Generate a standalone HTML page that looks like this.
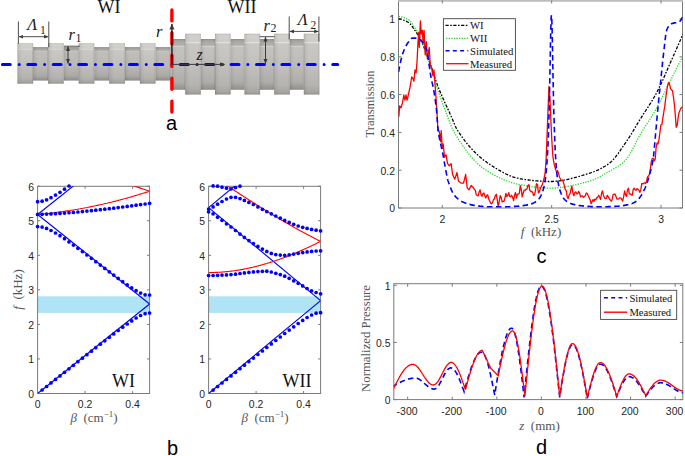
<!DOCTYPE html>
<html><head><meta charset="utf-8"><style>
html,body{margin:0;padding:0;background:#fff;}
svg{display:block;}
</style></head><body>
<svg width="685" height="456" viewBox="0 0 685 456">
<defs>
<linearGradient id="gRing" x1="0" y1="0" x2="0" y2="1">
 <stop offset="0" stop-color="#bbb9b6"/>
 <stop offset="0.03" stop-color="#d2d0cd"/>
 <stop offset="0.13" stop-color="#cfcdca"/>
 <stop offset="0.147" stop-color="#e6e4e1"/>
 <stop offset="0.165" stop-color="#cac8c5"/>
 <stop offset="0.5" stop-color="#c3c1be"/>
 <stop offset="0.85" stop-color="#b5b3b0"/>
 <stop offset="0.95" stop-color="#a8a6a3"/>
 <stop offset="1" stop-color="#969491"/>
</linearGradient>
<linearGradient id="gNar1" x1="0" y1="0" x2="0" y2="1">
 <stop offset="0" stop-color="#8f8d8a"/>
 <stop offset="0.05" stop-color="#a6a4a1"/>
 <stop offset="0.1" stop-color="#b2b0ad"/>
 <stop offset="0.119" stop-color="#d3d1ce"/>
 <stop offset="0.14" stop-color="#c0beba"/>
 <stop offset="0.55" stop-color="#bbb9b6"/>
 <stop offset="0.85" stop-color="#acaaa7"/>
 <stop offset="1" stop-color="#8f8d8a"/>
</linearGradient>
<linearGradient id="gNar2" x1="0" y1="0" x2="0" y2="1">
 <stop offset="0" stop-color="#8f8d8a"/>
 <stop offset="0.04" stop-color="#a9a7a4"/>
 <stop offset="0.125" stop-color="#b4b2af"/>
 <stop offset="0.142" stop-color="#d8d6d3"/>
 <stop offset="0.165" stop-color="#c4c2bf"/>
 <stop offset="0.5" stop-color="#bebcb9"/>
 <stop offset="0.85" stop-color="#afadaa"/>
 <stop offset="1" stop-color="#908e8b"/>
</linearGradient>
<linearGradient id="gEdge" x1="0" y1="0" x2="1" y2="0">
 <stop offset="0" stop-color="#000" stop-opacity="0.22"/>
 <stop offset="0.07" stop-color="#000" stop-opacity="0.06"/>
 <stop offset="0.3" stop-color="#000" stop-opacity="0.0"/>
 <stop offset="0.9" stop-color="#000" stop-opacity="0.0"/>
 <stop offset="1" stop-color="#000" stop-opacity="0.14"/>
</linearGradient>
<marker id="arr" viewBox="0 0 6 6" refX="5.5" refY="3" markerWidth="5" markerHeight="5" orient="auto-start-reverse">
 <path d="M0,0.5 L6,3 L0,5.5 z" fill="#3a3a3a"/>
</marker>
</defs>
<rect width="685" height="456" fill="#fff"/>
<rect x="33.1" y="47.1" width="15.0" height="33.5" fill="url(#gNar1)"/>
<rect x="33.1" y="47.1" width="15.0" height="33.5" fill="url(#gEdge)"/>
<rect x="63.7" y="47.1" width="15.0" height="33.5" fill="url(#gNar1)"/>
<rect x="63.7" y="47.1" width="15.0" height="33.5" fill="url(#gEdge)"/>
<rect x="94.3" y="47.1" width="15.0" height="33.5" fill="url(#gNar1)"/>
<rect x="94.3" y="47.1" width="15.0" height="33.5" fill="url(#gEdge)"/>
<rect x="124.9" y="47.1" width="15.0" height="33.5" fill="url(#gNar1)"/>
<rect x="124.9" y="47.1" width="15.0" height="33.5" fill="url(#gEdge)"/>
<rect x="155.5" y="47.1" width="15.0" height="33.5" fill="url(#gNar1)"/>
<rect x="155.5" y="47.1" width="15.0" height="33.5" fill="url(#gEdge)"/>
<rect x="17.5" y="43.2" width="15.6" height="40.5" fill="url(#gRing)"/>
<rect x="17.5" y="43.2" width="15.6" height="40.5" fill="url(#gEdge)"/>
<rect x="48.1" y="43.2" width="15.6" height="40.5" fill="url(#gRing)"/>
<rect x="48.1" y="43.2" width="15.6" height="40.5" fill="url(#gEdge)"/>
<rect x="78.7" y="43.2" width="15.6" height="40.5" fill="url(#gRing)"/>
<rect x="78.7" y="43.2" width="15.6" height="40.5" fill="url(#gEdge)"/>
<rect x="109.3" y="43.2" width="15.6" height="40.5" fill="url(#gRing)"/>
<rect x="109.3" y="43.2" width="15.6" height="40.5" fill="url(#gEdge)"/>
<rect x="139.9" y="43.2" width="15.6" height="40.5" fill="url(#gRing)"/>
<rect x="139.9" y="43.2" width="15.6" height="40.5" fill="url(#gEdge)"/>
<rect x="170.5" y="43.2" width="1.5" height="40.5" fill="url(#gRing)"/>
<rect x="170.5" y="43.2" width="1.5" height="40.5" fill="url(#gEdge)"/>
<rect x="172.0" y="39.0" width="13.2" height="50.8" fill="url(#gNar2)"/>
<rect x="172.0" y="39.0" width="13.2" height="50.8" fill="url(#gEdge)"/>
<rect x="200.8" y="39.0" width="14.2" height="50.8" fill="url(#gNar2)"/>
<rect x="200.8" y="39.0" width="14.2" height="50.8" fill="url(#gEdge)"/>
<rect x="230.6" y="39.0" width="13.9" height="50.8" fill="url(#gNar2)"/>
<rect x="230.6" y="39.0" width="13.9" height="50.8" fill="url(#gEdge)"/>
<rect x="260.1" y="39.0" width="14.1" height="50.8" fill="url(#gNar2)"/>
<rect x="260.1" y="39.0" width="14.1" height="50.8" fill="url(#gEdge)"/>
<rect x="289.8" y="39.0" width="14.0" height="50.8" fill="url(#gNar2)"/>
<rect x="289.8" y="39.0" width="14.0" height="50.8" fill="url(#gEdge)"/>
<rect x="185.2" y="33.7" width="15.6" height="60.9" fill="url(#gRing)"/>
<rect x="185.2" y="33.7" width="15.6" height="60.9" fill="url(#gEdge)"/>
<rect x="215.0" y="33.7" width="15.6" height="60.9" fill="url(#gRing)"/>
<rect x="215.0" y="33.7" width="15.6" height="60.9" fill="url(#gEdge)"/>
<rect x="244.5" y="33.7" width="15.6" height="60.9" fill="url(#gRing)"/>
<rect x="244.5" y="33.7" width="15.6" height="60.9" fill="url(#gEdge)"/>
<rect x="274.2" y="33.7" width="15.6" height="60.9" fill="url(#gRing)"/>
<rect x="274.2" y="33.7" width="15.6" height="60.9" fill="url(#gEdge)"/>
<rect x="303.8" y="33.7" width="15.6" height="60.9" fill="url(#gRing)"/>
<rect x="303.8" y="33.7" width="15.6" height="60.9" fill="url(#gEdge)"/>
<line x1="2.4" y1="64.4" x2="337.7" y2="64.4" stroke="#0000ff" stroke-width="3" stroke-linecap="round" stroke-dasharray="7.9 8.9 0.01 8.6"/>
<line x1="171.9" y1="9.9" x2="171.9" y2="120" stroke="#ff0000" stroke-width="3.4" stroke-linecap="round" stroke-dasharray="11 11.8"/>
<line x1="171.9" y1="64.4" x2="171.9" y2="24" stroke="#000" stroke-width="1.2" marker-end="url(#arr)"/>
<line x1="171.9" y1="64.4" x2="224.6" y2="64.4" stroke="#3a3a3a" stroke-width="1" marker-end="url(#arr)"/>
<line x1="68" y1="63.5" x2="68" y2="46.5" stroke="#3a3a3a" stroke-width="1" marker-start="url(#arr)" marker-end="url(#arr)"/>
<line x1="64" y1="46.2" x2="79.8" y2="46.2" stroke="#3a3a3a" stroke-width="0.9" />
<line x1="265.5" y1="63.5" x2="265.5" y2="37" stroke="#3a3a3a" stroke-width="1" marker-start="url(#arr)" marker-end="url(#arr)"/>
<line x1="259.7" y1="36.7" x2="274.6" y2="36.7" stroke="#3a3a3a" stroke-width="0.9" />
<line x1="18.4" y1="21.5" x2="18.4" y2="43.7" stroke="#3a3a3a" stroke-width="0.9" />
<line x1="48.8" y1="21.5" x2="48.8" y2="47.2" stroke="#3a3a3a" stroke-width="0.9" />
<line x1="19" y1="36.7" x2="48.2" y2="36.7" stroke="#3a3a3a" stroke-width="0.9" marker-start="url(#arr)" marker-end="url(#arr)"/>
<line x1="289.2" y1="16.5" x2="289.2" y2="39.5" stroke="#3a3a3a" stroke-width="0.9" />
<line x1="318.9" y1="16.5" x2="318.9" y2="41.7" stroke="#3a3a3a" stroke-width="0.9" />
<line x1="289.8" y1="31.4" x2="318.3" y2="31.4" stroke="#3a3a3a" stroke-width="0.9" marker-start="url(#arr)" marker-end="url(#arr)"/>
<text x="109" y="13.3" font-family="Liberation Serif" font-size="18" fill="#111" text-anchor="middle" >WI</text>
<text x="242" y="13.3" font-family="Liberation Serif" font-size="18" fill="#111" text-anchor="middle" >WII</text>
<text x="36.5" y="30" font-family="Liberation Serif" font-size="16.5" fill="#222" text-anchor="middle" ><tspan font-style="italic">Λ</tspan><tspan font-size="11.5" dy="4.1" dx="3">1</tspan></text>
<text x="307" y="24.6" font-family="Liberation Serif" font-size="16.5" fill="#222" text-anchor="middle" ><tspan font-style="italic">Λ</tspan><tspan font-size="11.5" dy="4.1" dx="3">2</tspan></text>
<text x="75" y="40" font-family="Liberation Serif" font-size="16.5" fill="#222" text-anchor="middle" ><tspan font-style="italic">r</tspan><tspan font-size="12" dy="1.5" dx="0.8">1</tspan></text>
<text x="270" y="30.5" font-family="Liberation Serif" font-size="16.5" fill="#222" text-anchor="middle" ><tspan font-style="italic">r</tspan><tspan font-size="12" dy="1.5" dx="0.8">2</tspan></text>
<text x="159.3" y="36.5" font-family="Liberation Serif" font-size="16.5" fill="#222" text-anchor="middle" font-style="italic">r</text>
<text x="199.5" y="60" font-family="Liberation Serif" font-size="16" fill="#222" text-anchor="middle" font-style="italic">z</text>
<text x="171.5" y="130" font-family="Liberation Sans" font-size="20" fill="#000" text-anchor="middle" >a</text>
<path d="M398.5,0 V208 H682.5 V0" fill="none" stroke="#7a7a7a" stroke-width="1"/>
<line x1="398.0" y1="0.85" x2="683.0" y2="0.85" stroke="#bdbdbd" stroke-width="1.7"/>
<line x1="442.3" y1="208" x2="442.3" y2="205" stroke="#7a7a7a" stroke-width="1" />
<line x1="442.3" y1="0.5" x2="442.3" y2="3.5" stroke="#7a7a7a" stroke-width="1" />
<text transform="translate(442.30,223.30) scale(0.9,1)" x="0" y="0" font-family="Liberation Sans" font-size="11.6" fill="#262626" text-anchor="middle" >2</text>
<line x1="551.675" y1="208" x2="551.675" y2="205" stroke="#7a7a7a" stroke-width="1" />
<line x1="551.675" y1="0.5" x2="551.675" y2="3.5" stroke="#7a7a7a" stroke-width="1" />
<text transform="translate(551.67,223.30) scale(0.9,1)" x="0" y="0" font-family="Liberation Sans" font-size="11.6" fill="#262626" text-anchor="middle" >2.5</text>
<line x1="661.05" y1="208" x2="661.05" y2="205" stroke="#7a7a7a" stroke-width="1" />
<line x1="661.05" y1="0.5" x2="661.05" y2="3.5" stroke="#7a7a7a" stroke-width="1" />
<text transform="translate(661.05,223.30) scale(0.9,1)" x="0" y="0" font-family="Liberation Sans" font-size="11.6" fill="#262626" text-anchor="middle" >3</text>
<line x1="398.5" y1="208" x2="401.5" y2="208" stroke="#7a7a7a" stroke-width="1" />
<line x1="682.5" y1="208" x2="679.5" y2="208" stroke="#7a7a7a" stroke-width="1" />
<text transform="translate(395.00,212.30) scale(0.9,1)" x="0" y="0" font-family="Liberation Sans" font-size="11.6" fill="#262626" text-anchor="end" >0</text>
<line x1="398.5" y1="170.2" x2="401.5" y2="170.2" stroke="#7a7a7a" stroke-width="1" />
<line x1="682.5" y1="170.2" x2="679.5" y2="170.2" stroke="#7a7a7a" stroke-width="1" />
<text transform="translate(395.00,174.50) scale(0.9,1)" x="0" y="0" font-family="Liberation Sans" font-size="11.6" fill="#262626" text-anchor="end" >0.2</text>
<line x1="398.5" y1="132.39999999999998" x2="401.5" y2="132.39999999999998" stroke="#7a7a7a" stroke-width="1" />
<line x1="682.5" y1="132.39999999999998" x2="679.5" y2="132.39999999999998" stroke="#7a7a7a" stroke-width="1" />
<text transform="translate(395.00,136.70) scale(0.9,1)" x="0" y="0" font-family="Liberation Sans" font-size="11.6" fill="#262626" text-anchor="end" >0.4</text>
<line x1="398.5" y1="94.60000000000001" x2="401.5" y2="94.60000000000001" stroke="#7a7a7a" stroke-width="1" />
<line x1="682.5" y1="94.60000000000001" x2="679.5" y2="94.60000000000001" stroke="#7a7a7a" stroke-width="1" />
<text transform="translate(395.00,98.90) scale(0.9,1)" x="0" y="0" font-family="Liberation Sans" font-size="11.6" fill="#262626" text-anchor="end" >0.6</text>
<line x1="398.5" y1="56.79999999999998" x2="401.5" y2="56.79999999999998" stroke="#7a7a7a" stroke-width="1" />
<line x1="682.5" y1="56.79999999999998" x2="679.5" y2="56.79999999999998" stroke="#7a7a7a" stroke-width="1" />
<text transform="translate(395.00,61.10) scale(0.9,1)" x="0" y="0" font-family="Liberation Sans" font-size="11.6" fill="#262626" text-anchor="end" >0.8</text>
<line x1="398.5" y1="19" x2="401.5" y2="19" stroke="#7a7a7a" stroke-width="1" />
<line x1="682.5" y1="19" x2="679.5" y2="19" stroke="#7a7a7a" stroke-width="1" />
<text transform="translate(395.00,23.30) scale(0.9,1)" x="0" y="0" font-family="Liberation Sans" font-size="11.6" fill="#262626" text-anchor="end" >1</text>
<text x="541" y="236" font-family="Liberation Serif" font-size="13" fill="#555555" text-anchor="middle" xml:space="preserve"><tspan font-style="italic">f</tspan>  (kHz)</text>
<text x="0" y="0" font-family="Liberation Serif" font-size="12.5" fill="#555555" text-anchor="middle" transform="translate(373.8,104) rotate(-90)">Transmission</text>
<text x="541.5" y="263" font-family="Liberation Sans" font-size="20" fill="#000" text-anchor="middle" >c</text>
<svg x="398.5" y="0.5" width="284.0" height="207.5" viewBox="398.5 0.5 284.0 207.5" overflow="hidden">
<path d="M398.6,19.0L399.5,19.0L400.5,19.2L401.4,19.4L402.4,19.6L403.3,20.0L404.3,20.3L405.2,20.8L406.2,21.2L407.1,21.7L408.1,22.3L409.0,22.9L410.0,23.7L410.9,24.8L411.9,26.0L412.8,27.4L413.8,28.8L414.7,30.1L415.7,31.5L416.6,32.8L417.6,34.3L418.5,35.9L419.5,37.6L420.4,39.5L421.4,41.5L422.3,43.6L423.3,45.8L424.2,48.1L425.2,50.5L426.1,52.9L427.1,55.4L428.0,57.9L429.0,60.4L429.9,62.9L430.9,65.6L431.8,68.4L432.8,71.3L433.7,74.2L434.7,77.1L435.6,80.0L436.6,82.7L437.5,85.3L438.5,87.7L439.4,90.1L440.4,92.4L441.3,94.6L442.3,96.8L443.3,99.0L444.2,101.1L445.2,103.2L446.1,105.2L447.1,107.3L448.0,109.4L449.0,111.4L449.9,113.5L450.9,115.6L451.8,117.8L452.8,120.0L453.7,122.3L454.7,124.6L455.6,126.7L456.6,128.7L457.5,130.4L458.5,131.8L459.4,133.2L460.4,134.6L461.3,136.0L462.3,137.3L463.2,138.6L464.2,139.9L465.1,141.1L466.1,142.3L467.0,143.5L468.0,144.7L468.9,145.8L469.9,146.9L470.8,148.0L471.8,149.0L472.7,150.0L473.7,151.0L474.6,152.0L475.6,152.9L476.5,153.9L477.5,154.8L478.4,155.6L479.4,156.5L480.3,157.3L481.3,158.1L482.2,158.9L483.2,159.7L484.1,160.4L485.1,161.1L486.1,161.8L487.0,162.5L488.0,163.2L488.9,163.8L489.9,164.4L490.8,165.1L491.8,165.7L492.7,166.3L493.7,166.9L494.6,167.5L495.6,168.1L496.5,168.7L497.5,169.2L498.4,169.8L499.4,170.4L500.3,170.9L501.3,171.5L502.2,172.0L503.2,172.5L504.1,173.0L505.1,173.5L506.0,174.0L507.0,174.4L507.9,174.9L508.9,175.3L509.8,175.7L510.8,176.1L511.7,176.5L512.7,176.8L513.6,177.1L514.6,177.4L515.5,177.7L516.5,178.0L517.4,178.2L518.4,178.4L519.3,178.6L520.3,178.8L521.2,178.9L522.2,179.1L523.1,179.2L524.1,179.3L525.0,179.5L526.0,179.6L526.9,179.7L527.9,179.9L528.8,180.0L529.8,180.1L530.8,180.2L531.7,180.4L532.7,180.5L533.6,180.6L534.6,180.7L535.5,180.8L536.5,180.9L537.4,180.9L538.4,181.0L539.3,181.1L540.3,181.2L541.2,181.2L542.2,181.3L543.1,181.4L544.1,181.4L545.0,181.4L546.0,181.5L546.9,181.5L547.9,181.5L548.8,181.5L549.8,181.5L550.7,181.5L551.7,181.5L552.6,181.5L553.6,181.4L554.5,181.4L555.5,181.3L556.4,181.2L557.4,181.1L558.3,181.0L559.3,180.9L560.2,180.8L561.2,180.6L562.1,180.5L563.1,180.3L564.0,180.1L565.0,179.9L565.9,179.8L566.9,179.6L567.8,179.3L568.8,179.1L569.7,178.9L570.7,178.7L571.6,178.4L572.6,178.2L573.6,178.0L574.5,177.7L575.5,177.4L576.4,177.2L577.4,176.9L578.3,176.6L579.3,176.4L580.2,176.1L581.2,175.8L582.1,175.5L583.1,175.2L584.0,174.9L585.0,174.6L585.9,174.3L586.9,174.0L587.8,173.8L588.8,173.5L589.7,173.2L590.7,172.9L591.6,172.5L592.6,172.2L593.5,171.9L594.5,171.5L595.4,171.1L596.4,170.7L597.3,170.3L598.3,169.9L599.2,169.4L600.2,168.9L601.1,168.4L602.1,167.9L603.0,167.4L604.0,166.8L604.9,166.3L605.9,165.7L606.8,165.0L607.8,164.4L608.7,163.7L609.7,163.0L610.6,162.2L611.6,161.4L612.5,160.4L613.5,159.4L614.4,158.2L615.4,157.1L616.3,155.9L617.3,154.6L618.3,153.3L619.2,151.9L620.2,150.6L621.1,149.2L622.1,147.8L623.0,146.4L624.0,145.0L624.9,143.7L625.9,142.3L626.8,140.9L627.8,139.5L628.7,138.0L629.7,136.6L630.6,135.0L631.6,133.5L632.5,131.9L633.5,130.4L634.4,128.8L635.4,127.2L636.3,125.6L637.3,124.0L638.2,122.5L639.2,120.9L640.1,119.3L641.1,117.8L642.0,116.3L643.0,114.8L643.9,113.4L644.9,111.9L645.8,110.5L646.8,109.0L647.7,107.6L648.7,106.1L649.6,104.6L650.6,103.1L651.5,101.6L652.5,100.0L653.4,98.4L654.4,96.8L655.3,95.1L656.3,93.3L657.2,91.5L658.2,89.6L659.1,87.7L660.1,85.7L661.0,83.7L662.0,81.6L663.0,79.5L663.9,77.4L664.9,75.3L665.8,73.1L666.8,70.9L667.7,68.7L668.7,66.6L669.6,64.4L670.6,62.2L671.5,60.1L672.5,58.0L673.4,55.8L674.4,53.7L675.3,51.6L676.3,49.4L677.2,47.2L678.2,45.1L679.1,42.9L680.1,40.7L681.0,38.5L682.0,36.3L682.9,34.1" fill="none" stroke="#000" stroke-width="1.3" stroke-dasharray="3.2 1.5 1.6 1.5"/>
<path d="M398.6,16.5L399.5,16.6L400.5,16.7L401.4,16.9L402.4,17.1L403.3,17.4L404.3,17.7L405.2,18.1L406.2,18.5L407.1,19.0L408.1,19.5L409.0,20.0L410.0,20.8L410.9,21.9L411.9,23.3L412.8,24.7L413.8,26.2L414.7,27.7L415.7,29.1L416.6,30.7L417.6,32.3L418.5,34.1L419.5,35.9L420.4,37.9L421.4,40.1L422.3,42.4L423.3,44.9L424.2,47.5L425.2,50.3L426.1,53.1L427.1,56.0L428.0,58.9L429.0,61.8L429.9,64.7L430.9,67.6L431.8,70.7L432.8,73.8L433.7,76.9L434.7,80.1L435.6,83.2L436.6,86.2L437.5,89.1L438.5,91.9L439.4,94.6L440.4,97.3L441.3,100.0L442.3,102.6L443.3,105.2L444.2,107.8L445.2,110.3L446.1,112.8L447.1,115.2L448.0,117.7L449.0,120.3L449.9,122.8L450.9,125.3L451.8,127.6L452.8,129.6L453.7,131.3L454.7,133.0L455.6,134.6L456.6,136.2L457.5,137.8L458.5,139.3L459.4,140.8L460.4,142.2L461.3,143.7L462.3,145.1L463.2,146.5L464.2,147.8L465.1,149.1L466.1,150.4L467.0,151.7L468.0,152.9L468.9,154.1L469.9,155.3L470.8,156.4L471.8,157.5L472.7,158.6L473.7,159.6L474.6,160.6L475.6,161.6L476.5,162.5L477.5,163.4L478.4,164.3L479.4,165.2L480.3,166.0L481.3,166.8L482.2,167.5L483.2,168.2L484.1,168.9L485.1,169.6L486.1,170.2L487.0,170.8L488.0,171.4L488.9,172.0L489.9,172.5L490.8,173.1L491.8,173.7L492.7,174.2L493.7,174.7L494.6,175.3L495.6,175.8L496.5,176.3L497.5,176.8L498.4,177.2L499.4,177.7L500.3,178.1L501.3,178.6L502.2,179.0L503.2,179.4L504.1,179.8L505.1,180.2L506.0,180.6L507.0,181.0L507.9,181.3L508.9,181.7L509.8,182.0L510.8,182.3L511.7,182.6L512.7,182.9L513.6,183.2L514.6,183.4L515.5,183.7L516.5,183.9L517.4,184.1L518.4,184.3L519.3,184.5L520.3,184.6L521.2,184.8L522.2,185.0L523.1,185.2L524.1,185.3L525.0,185.5L526.0,185.7L526.9,185.8L527.9,186.0L528.8,186.2L529.8,186.3L530.8,186.5L531.7,186.6L532.7,186.8L533.6,186.9L534.6,187.0L535.5,187.1L536.5,187.3L537.4,187.4L538.4,187.5L539.3,187.6L540.3,187.7L541.2,187.8L542.2,187.8L543.1,187.9L544.1,188.0L545.0,188.0L546.0,188.1L546.9,188.1L547.9,188.1L548.8,188.1L549.8,188.2L550.7,188.2L551.7,188.1L552.6,188.1L553.6,188.1L554.5,188.0L555.5,188.0L556.4,187.9L557.4,187.8L558.3,187.7L559.3,187.6L560.2,187.5L561.2,187.4L562.1,187.3L563.1,187.2L564.0,187.0L565.0,186.9L565.9,186.7L566.9,186.5L567.8,186.4L568.8,186.2L569.7,186.0L570.7,185.8L571.6,185.6L572.6,185.4L573.6,185.2L574.5,185.0L575.5,184.8L576.4,184.6L577.4,184.3L578.3,184.1L579.3,183.9L580.2,183.6L581.2,183.4L582.1,183.2L583.1,182.9L584.0,182.7L585.0,182.4L585.9,182.1L586.9,181.9L587.8,181.6L588.8,181.4L589.7,181.1L590.7,180.8L591.6,180.5L592.6,180.2L593.5,179.8L594.5,179.4L595.4,179.0L596.4,178.5L597.3,178.1L598.3,177.6L599.2,177.1L600.2,176.6L601.1,176.0L602.1,175.5L603.0,175.0L604.0,174.4L604.9,173.8L605.9,173.3L606.8,172.7L607.8,172.2L608.7,171.6L609.7,171.1L610.6,170.5L611.6,170.0L612.5,169.4L613.5,168.9L614.4,168.3L615.4,167.8L616.3,167.2L617.3,166.6L618.3,166.0L619.2,165.3L620.2,164.6L621.1,163.9L622.1,163.2L623.0,162.4L624.0,161.5L624.9,160.7L625.9,159.7L626.8,158.6L627.8,157.3L628.7,155.9L629.7,154.4L630.6,152.8L631.6,151.0L632.5,149.3L633.5,147.4L634.4,145.6L635.4,143.7L636.3,141.8L637.3,140.0L638.2,138.2L639.2,136.4L640.1,134.7L641.1,133.1L642.0,131.6L643.0,130.0L643.9,128.5L644.9,127.0L645.8,125.6L646.8,124.1L647.7,122.6L648.7,121.1L649.6,119.7L650.6,118.2L651.5,116.7L652.5,115.1L653.4,113.6L654.4,112.0L655.3,110.3L656.3,108.7L657.2,106.9L658.2,105.2L659.1,103.4L660.1,101.5L661.0,99.7L662.0,97.8L663.0,95.8L663.9,93.9L664.9,92.0L665.8,90.0L666.8,88.1L667.7,86.1L668.7,84.2L669.6,82.2L670.6,80.3L671.5,78.4L672.5,76.5L673.4,74.7L674.4,72.8L675.3,70.9L676.3,69.0L677.2,67.1L678.2,65.2L679.1,63.4L680.1,61.5L681.0,59.6L682.0,57.7L682.9,55.9" fill="none" stroke="#22dd22" stroke-width="1.3" stroke-dasharray="1.3 1.3"/>
<path d="M398.1,107.1L398.9,116.3L399.6,105.8L401.0,107.8L402.5,102.9L403.8,95.0L404.9,100.1L406.0,95.0L407.1,100.1L408.8,92.9L410.1,87.0L411.7,77.0L413.0,78.5L413.9,81.4L415.0,70.0L416.1,72.9L417.1,60.6L418.0,41.7L418.7,32.2L419.3,47.3L420.4,20.9L421.3,34.1L422.4,30.3L423.1,43.6L424.1,30.3L425.2,54.9L426.3,41.7L427.4,58.7L429.2,47.3L430.3,65.3L431.8,68.1L432.9,75.7L434.0,70.0L435.1,85.1L436.2,100.1L437.3,117.5L437.9,130.7L438.8,130.5L439.5,133.0L440.6,141.7L441.2,130.7L442.3,148.3L443.2,143.9L444.5,157.0L446.0,154.9L447.6,163.6L449.3,165.9L451.1,163.6L452.6,174.5L454.8,179.1L457.0,172.5L458.5,181.2L461.3,183.2L463.5,183.2L465.7,174.5L467.2,187.8L469.0,189.9L471.2,185.5L473.4,187.8L474.3,189.2L475.3,190.2L476.2,194.7L477.2,195.5L478.1,195.9L479.1,192.2L480.1,189.8L481.0,194.4L482.0,196.2L482.9,193.5L483.9,193.0L484.8,195.5L485.8,197.9L486.8,195.5L487.7,194.8L488.7,198.9L489.6,200.7L490.6,203.1L491.5,203.8L492.5,202.6L493.5,199.7L494.4,198.7L495.4,195.5L496.3,194.3L497.3,199.9L498.2,206.7L499.2,201.7L500.2,195.7L501.1,197.1L502.1,201.9L503.0,201.3L504.0,201.3L504.9,198.2L505.9,193.5L506.9,196.7L507.8,195.2L508.8,192.7L509.7,196.5L510.7,196.8L511.6,195.2L512.6,197.4L513.6,200.6L514.5,195.2L515.5,192.6L516.4,198.0L517.4,194.2L518.3,194.1L519.3,193.5L520.3,185.6L521.2,189.1L522.2,196.8L523.1,193.6L524.1,190.1L525.0,190.4L526.0,189.1L526.9,189.0L527.9,185.6L528.9,184.7L529.8,190.4L530.8,191.5L531.7,191.5L532.7,192.5L533.6,195.6L534.6,194.5L535.6,189.6L536.5,183.6L537.5,184.6L538.4,192.9L539.4,191.8L540.3,188.5L541.3,186.3L542.3,184.6L543.2,181.5L544.2,177.6L545.1,173.2L546.1,159.6L547.0,137.4L548.0,110.1L549.0,86.3L549.9,97.7L550.9,120.6L551.8,139.8L552.8,155.3L553.7,161.8L554.7,166.2L555.7,169.6L556.6,172.3L557.6,170.6L558.5,173.3L559.5,177.2L560.4,178.8L561.4,180.5L562.4,180.0L563.3,182.0L564.3,185.4L565.2,189.5L566.2,190.5L567.1,196.2L568.1,198.6L569.1,195.1L570.0,193.9L571.0,189.3L571.9,186.1L572.9,193.1L573.8,195.7L574.8,192.7L575.8,191.9L576.7,193.8L577.7,193.7L578.6,191.4L579.6,192.9L580.5,196.8L581.5,195.9L582.4,195.8L583.4,197.4L584.4,196.4L585.3,195.9L586.3,193.0L587.2,193.4L588.2,195.8L589.1,197.6L590.1,199.7L591.1,203.7L592.0,201.8L593.0,199.6L593.9,201.4L594.9,199.1L595.8,199.8L596.8,197.7L597.8,197.2L598.7,195.3L599.7,197.2L600.6,199.5L601.6,193.1L602.5,190.9L603.5,195.4L604.5,197.8L605.4,198.7L606.4,198.4L607.3,195.3L608.3,196.9L609.2,198.5L610.2,199.9L611.2,201.2L612.1,199.7L613.1,194.7L614.0,194.3L615.0,194.0L615.9,196.3L616.9,199.1L617.9,199.2L618.8,198.7L619.8,197.8L620.7,197.9L621.7,199.2L622.6,201.1L623.6,196.9L624.6,191.0L625.5,194.6L626.5,196.3L627.4,190.3L628.4,188.3L629.3,193.8L630.3,193.9L631.3,194.8L632.2,195.3L633.2,189.6L634.1,188.2L635.1,189.7L636.0,190.3L637.0,188.6L638.0,189.2L638.9,190.1L639.9,192.4L640.8,189.9L641.8,183.4L642.7,183.8L643.7,183.3L644.6,182.7L645.6,183.5L646.6,181.2L647.5,177.0L648.5,176.1L649.4,174.2L650.4,168.6L651.3,161.5L652.3,158.4L653.3,158.4L654.2,161.0L655.2,159.1L656.1,147.7L657.1,142.9L658.0,144.1L659.0,139.4L660.0,132.0L660.9,124.8L661.9,124.7L662.8,118.4L663.8,111.8L664.7,106.7L665.7,98.5L666.7,91.0L667.6,85.3L668.6,82.4L669.5,84.0L670.5,88.4L671.4,89.9L672.4,90.5L673.4,96.7L674.3,103.6L675.3,114.9L676.2,127.3L677.2,125.3L678.1,117.7L679.1,112.4L680.1,110.1L681.0,108.0L682.0,107.4L682.9,106.5" fill="none" stroke="#ff0000" stroke-width="1.3" stroke-linejoin="round"/>
<path d="M398.6,71.9L398.8,70.8L399.0,69.7L399.2,68.7L399.4,67.6L399.6,66.6L399.8,65.6L400.0,64.6L400.2,63.6L400.4,62.7L400.6,61.8L400.8,60.9L401.0,60.0L401.2,59.1L401.4,58.3L401.6,57.5L401.8,56.7L402.0,56.0L402.2,55.3L402.4,54.7L402.6,54.0L402.8,53.4L403.0,52.9L403.2,52.3L403.4,51.7L403.6,51.2L403.8,50.7L404.0,50.2L404.2,49.7L404.4,49.2L404.6,48.7L404.9,48.2L405.1,47.8L405.3,47.3L405.5,46.9L405.7,46.5L405.9,46.1L406.1,45.7L406.3,45.3L406.5,45.0L406.7,44.6L406.9,44.3L407.1,44.0L407.3,43.6L407.5,43.3L407.7,43.1L407.9,42.8L408.1,42.5L408.3,42.2L408.5,41.9L408.7,41.6L408.9,41.3L409.1,41.0L409.3,40.8L409.5,40.5L409.7,40.2L409.9,40.0L410.1,39.7L410.3,39.5L410.5,39.3L410.7,39.1L410.9,38.9L411.2,38.7L411.4,38.5L411.6,38.4L411.8,38.3L412.0,38.2L412.2,38.1L412.4,38.1L412.6,38.1L412.8,38.1L413.0,38.1L413.2,38.1L413.4,38.1L413.6,38.1L413.8,38.1L414.0,38.1L414.2,38.1L414.4,38.1L414.6,38.1L414.8,38.1L415.0,38.1L415.2,38.1L415.4,38.1L415.6,38.1L415.8,38.1L416.0,38.1L416.2,38.1L416.4,38.1L416.6,38.1L416.8,38.1L417.0,38.1L417.3,38.1L417.5,38.1L417.7,38.1L417.9,38.1L418.1,38.2L418.3,38.3L418.5,38.4L418.7,38.5L418.9,38.6L419.1,38.7L419.3,38.8L419.5,39.0L419.7,39.2L419.9,39.3L420.1,39.5L420.3,39.7L420.5,39.9L420.7,40.1L420.9,40.3L421.1,40.5L421.3,40.7L421.5,41.0L421.7,41.2L421.9,41.4L422.1,41.6L422.3,41.8L422.5,42.1L422.7,42.3L422.9,42.6L423.1,42.9L423.3,43.1L423.6,43.4L423.8,43.7L424.0,44.1L424.2,44.4L424.4,44.8L424.6,45.2L424.8,45.6L425.0,46.0L425.2,46.4L425.4,46.8L425.6,47.3L425.8,47.8L426.0,48.3L426.2,48.8L426.4,49.4L426.6,50.0L426.8,50.6L427.0,51.2L427.2,51.9L427.4,52.8L427.6,53.8L427.8,55.0L428.0,56.3L428.2,57.7L428.4,59.1L428.6,60.6L428.8,62.2L429.0,63.7L429.2,65.3L429.4,66.9L429.7,68.5L429.9,70.0L430.1,71.5L430.3,72.9L430.5,74.2L430.7,75.5L430.9,76.6L431.1,77.6L431.3,78.6L431.5,79.6L431.7,80.6L431.9,81.5L432.1,82.4L432.3,83.2L432.5,84.1L432.7,85.0L432.9,85.9L433.1,86.9L433.3,87.8L433.5,88.8L433.7,89.9L433.9,91.0L434.1,92.2L434.3,93.4L434.5,94.7L434.7,96.0L434.9,97.4L435.1,98.9L435.3,100.4L435.5,102.0L435.7,103.7L436.0,105.4L436.2,107.2L436.4,109.1L436.6,111.1L436.8,113.3L437.0,116.0L437.2,118.9L437.4,122.0L437.6,124.8L437.8,127.2L438.0,129.0L438.2,130.6L438.4,132.0L438.6,133.4L438.8,134.7L439.0,135.9L439.2,137.1L439.4,138.1L439.6,139.2L439.8,140.2L440.0,141.1L440.2,142.0L440.4,142.9L440.6,143.8L440.8,144.6L441.0,145.5L441.2,146.4L441.4,147.2L441.6,148.1L441.8,149.1L442.0,150.0L442.3,151.0L442.5,152.0L442.7,153.1L442.9,154.2L443.1,155.2L443.3,156.3L443.5,157.4L443.7,158.6L443.9,159.7L444.1,160.8L444.3,162.0L444.5,163.1L444.7,164.2L444.9,165.3L445.1,166.5L445.3,167.6L445.5,168.7L445.7,169.8L445.9,170.8L446.1,171.9L446.3,172.9L446.5,174.0L446.7,174.9L446.9,175.9L447.1,176.8L447.3,177.7L447.5,178.6L447.7,179.5L447.9,180.3L448.1,181.0L448.4,181.7L448.6,182.4L448.8,183.0L449.0,183.6L449.2,184.2L449.4,184.8L449.6,185.3L449.8,185.9L450.0,186.4L450.2,186.9L450.4,187.4L450.6,187.9L450.8,188.4L451.0,188.9L451.2,189.4L451.4,189.8L451.6,190.3L451.8,190.7L452.0,191.2L452.2,191.6L452.4,192.0L452.6,192.4L452.8,192.8L453.0,193.1L453.2,193.5L453.4,193.8L453.6,194.2L453.8,194.5L454.0,194.8L454.2,195.1L454.4,195.4L454.7,195.6L454.9,195.9L455.1,196.1L455.3,196.4L455.5,196.6L455.7,196.8L455.9,197.0L456.1,197.2L456.3,197.4L456.5,197.6L456.7,197.8L456.9,198.0L457.1,198.2L457.3,198.4L457.5,198.5L457.7,198.7L457.9,198.9L458.1,199.0L458.3,199.2L458.5,199.4L458.7,199.5L458.9,199.7L459.1,199.8L459.3,200.0L459.5,200.1L459.7,200.2L459.9,200.4L460.1,200.5L460.3,200.6L460.5,200.8L460.8,200.9L461.0,201.0L461.2,201.1L461.4,201.2L461.6,201.4L461.8,201.5L462.0,201.6L462.2,201.7L462.4,201.8L462.6,201.9L462.8,202.0L463.0,202.1L463.2,202.2L463.4,202.3L463.6,202.3L463.8,202.4L464.0,202.5L464.2,202.6L464.4,202.7L464.6,202.8L464.8,202.8L465.0,202.9L465.2,203.0L465.4,203.1L465.6,203.1L465.8,203.2L466.0,203.3L466.2,203.4L466.4,203.4L466.6,203.5L466.8,203.6L467.1,203.6L467.3,203.7L467.5,203.8L467.7,203.8L467.9,203.9L468.1,204.0L468.3,204.0L468.5,204.1L468.7,204.1L468.9,204.2L469.1,204.3L469.3,204.3L469.5,204.4L469.7,204.4L469.9,204.5L470.1,204.5L470.3,204.6L470.5,204.6L470.7,204.7L470.9,204.7L471.1,204.8L471.3,204.8L471.5,204.9L471.7,204.9L471.9,205.0L472.1,205.0L472.3,205.1L472.5,205.1L472.7,205.1L472.9,205.2L473.2,205.2L473.4,205.3L473.6,205.3L473.8,205.3L474.0,205.4L474.2,205.4L474.4,205.4L474.6,205.5L474.8,205.5L475.0,205.5L475.2,205.6L475.4,205.6L475.6,205.6L475.8,205.7L476.0,205.7L476.2,205.7L476.4,205.7L476.6,205.8L476.8,205.8L477.0,205.8L477.2,205.9L477.4,205.9L477.6,205.9L477.8,205.9L478.0,206.0L478.2,206.0L478.4,206.0L478.6,206.0L478.8,206.1L479.0,206.1L479.2,206.1L479.5,206.1L479.7,206.2L479.9,206.2L480.1,206.2L480.3,206.2L480.5,206.2L480.7,206.3L480.9,206.3L481.1,206.3L481.3,206.3L481.5,206.3L481.7,206.4L481.9,206.4L482.1,206.4L482.3,206.4L482.5,206.4L482.7,206.5L482.9,206.5L483.1,206.5L483.3,206.5L483.5,206.5L483.7,206.5L483.9,206.5L484.1,206.6L484.3,206.6L484.5,206.6L484.7,206.6L484.9,206.6L485.1,206.6L485.3,206.6L485.5,206.6L485.8,206.6L486.0,206.6L486.2,206.6L486.4,206.6L486.6,206.6L486.8,206.6L487.0,206.7L487.2,206.7L487.4,206.7L487.6,206.7L487.8,206.7L488.0,206.7L488.2,206.7L488.4,206.7L488.6,206.7L488.8,206.7L489.0,206.7L489.2,206.7L489.4,206.7L489.6,206.7L489.8,206.7L490.0,206.7L490.2,206.7L490.4,206.7L490.6,206.7L490.8,206.7L491.0,206.7L491.2,206.7L491.4,206.7L491.6,206.7L491.9,206.7L492.1,206.8L492.3,206.8L492.5,206.8L492.7,206.8L492.9,206.8L493.1,206.8L493.3,206.8L493.5,206.8L493.7,206.8L493.9,206.8L494.1,206.8L494.3,206.8L494.5,206.8L494.7,206.8L494.9,206.8L495.1,206.8L495.3,206.8L495.5,206.8L495.7,206.8L495.9,206.8L496.1,206.8L496.3,206.8L496.5,206.8L496.7,206.8L496.9,206.8L497.1,206.8L497.3,206.8L497.5,206.8L497.7,206.8L497.9,206.8L498.2,206.8L498.4,206.8L498.6,206.8L498.8,206.8L499.0,206.8L499.2,206.8L499.4,206.8L499.6,206.8L499.8,206.8L500.0,206.8L500.2,206.8L500.4,206.8L500.6,206.8L500.8,206.8L501.0,206.8L501.2,206.8L501.4,206.8L501.6,206.8L501.8,206.8L502.0,206.8L502.2,206.8L502.4,206.8L502.6,206.8L502.8,206.8L503.0,206.8L503.2,206.8L503.4,206.8L503.6,206.8L503.8,206.8L504.0,206.8L504.3,206.8L504.5,206.8L504.7,206.8L504.9,206.8L505.1,206.8L505.3,206.8L505.5,206.8L505.7,206.8L505.9,206.8L506.1,206.8L506.3,206.7L506.5,206.7L506.7,206.7L506.9,206.7L507.1,206.7L507.3,206.7L507.5,206.7L507.7,206.7L507.9,206.7L508.1,206.7L508.3,206.7L508.5,206.7L508.7,206.7L508.9,206.7L509.1,206.7L509.3,206.7L509.5,206.7L509.7,206.7L509.9,206.7L510.1,206.6L510.3,206.6L510.6,206.6L510.8,206.6L511.0,206.6L511.2,206.6L511.4,206.6L511.6,206.6L511.8,206.6L512.0,206.6L512.2,206.6L512.4,206.5L512.6,206.5L512.8,206.5L513.0,206.5L513.2,206.5L513.4,206.5L513.6,206.5L513.8,206.5L514.0,206.5L514.2,206.4L514.4,206.4L514.6,206.4L514.8,206.4L515.0,206.4L515.2,206.4L515.4,206.4L515.6,206.4L515.8,206.3L516.0,206.3L516.2,206.3L516.4,206.3L516.6,206.3L516.9,206.3L517.1,206.2L517.3,206.2L517.5,206.2L517.7,206.2L517.9,206.2L518.1,206.2L518.3,206.1L518.5,206.1L518.7,206.1L518.9,206.1L519.1,206.1L519.3,206.0L519.5,206.0L519.7,206.0L519.9,206.0L520.1,206.0L520.3,205.9L520.5,205.9L520.7,205.9L520.9,205.9L521.1,205.9L521.3,205.8L521.5,205.8L521.7,205.8L521.9,205.8L522.1,205.7L522.3,205.7L522.5,205.7L522.7,205.7L523.0,205.6L523.2,205.6L523.4,205.6L523.6,205.5L523.8,205.5L524.0,205.5L524.2,205.5L524.4,205.4L524.6,205.4L524.8,205.4L525.0,205.3L525.2,205.3L525.4,205.3L525.6,205.2L525.8,205.2L526.0,205.2L526.2,205.1L526.4,205.1L526.6,205.1L526.8,205.0L527.0,205.0L527.2,204.9L527.4,204.9L527.6,204.9L527.8,204.8L528.0,204.8L528.2,204.7L528.4,204.7L528.6,204.6L528.8,204.6L529.0,204.5L529.3,204.5L529.5,204.4L529.7,204.4L529.9,204.3L530.1,204.3L530.3,204.2L530.5,204.2L530.7,204.1L530.9,204.1L531.1,204.0L531.3,203.9L531.5,203.9L531.7,203.8L531.9,203.7L532.1,203.6L532.3,203.6L532.5,203.5L532.7,203.4L532.9,203.3L533.1,203.2L533.3,203.1L533.5,203.0L533.7,202.9L533.9,202.8L534.1,202.7L534.3,202.6L534.5,202.5L534.7,202.4L534.9,202.3L535.1,202.1L535.4,202.0L535.6,201.9L535.8,201.7L536.0,201.6L536.2,201.5L536.4,201.3L536.6,201.2L536.8,201.0L537.0,200.8L537.2,200.7L537.4,200.5L537.6,200.3L537.8,200.1L538.0,199.9L538.2,199.7L538.4,199.5L538.6,199.3L538.8,199.0L539.0,198.8L539.2,198.5L539.4,198.3L539.6,198.0L539.8,197.7L540.0,197.3L540.2,197.0L540.4,196.6L540.6,196.3L540.8,195.9L541.0,195.5L541.2,195.0L541.4,194.6L541.7,194.1L541.9,193.6L542.1,193.1L542.3,192.6L542.5,192.0L542.7,191.4L542.9,190.7L543.1,190.1L543.3,189.4L543.5,188.6L543.7,187.8L543.9,187.0L544.1,186.1L544.3,185.2L544.5,184.2L544.7,183.1L544.9,181.9L545.1,180.7L545.3,179.3L545.5,177.9L545.7,176.3L545.9,174.6L546.1,172.7L546.3,170.7L546.5,168.5L546.7,166.0L546.9,163.4L547.1,160.4L547.3,157.2L547.5,153.6L547.8,149.7L548.0,145.3L548.2,140.5L548.4,135.1L548.6,129.2L548.8,122.6L549.0,115.4L549.2,107.5L549.4,98.8L549.6,89.5L549.8,79.5L550.0,69.1L550.2,58.5L550.4,47.9L550.6,38.0L550.8,29.2L551.0,22.2L551.2,17.4L551.4,15.3L551.6,16.1L551.8,19.6L552.0,25.7L552.2,33.8L552.4,43.2L552.6,53.5L552.8,64.2L553.0,74.7L553.2,84.9L553.4,94.5L553.6,103.5L553.8,111.8L554.1,119.3L554.3,126.2L554.5,132.4L554.7,138.0L554.9,143.0L555.1,147.6L555.3,151.7L555.5,155.5L555.7,158.8L555.9,161.9L556.1,164.7L556.3,167.2L556.5,169.6L556.7,171.7L556.9,173.6L557.1,175.4L557.3,177.0L557.5,178.5L557.7,179.9L557.9,181.2L558.1,182.4L558.3,183.5L558.5,184.5L558.7,185.5L558.9,186.4L559.1,187.3L559.3,188.1L559.5,188.8L559.7,189.6L559.9,190.2L560.1,190.9L560.4,191.5L560.6,192.1L560.8,192.6L561.0,193.2L561.2,193.7L561.4,194.2L561.6,194.6L561.8,195.1L562.0,195.5L562.2,195.9L562.4,196.3L562.6,196.6L562.8,197.0L563.0,197.3L563.2,197.7L563.4,198.0L563.6,198.3L563.8,198.5L564.0,198.8L564.2,199.0L564.4,199.3L564.6,199.5L564.8,199.7L565.0,199.9L565.2,200.1L565.4,200.3L565.6,200.5L565.8,200.7L566.0,200.8L566.2,201.0L566.5,201.2L566.7,201.3L566.9,201.5L567.1,201.6L567.3,201.7L567.5,201.9L567.7,202.0L567.9,202.1L568.1,202.3L568.3,202.4L568.5,202.5L568.7,202.6L568.9,202.7L569.1,202.8L569.3,202.9L569.5,203.0L569.7,203.1L569.9,203.2L570.1,203.3L570.3,203.4L570.5,203.5L570.7,203.5L570.9,203.6L571.1,203.7L571.3,203.8L571.5,203.8L571.7,203.9L571.9,204.0L572.1,204.1L572.3,204.1L572.5,204.2L572.8,204.2L573.0,204.3L573.2,204.3L573.4,204.4L573.6,204.4L573.8,204.5L574.0,204.5L574.2,204.6L574.4,204.6L574.6,204.7L574.8,204.7L575.0,204.8L575.2,204.8L575.4,204.9L575.6,204.9L575.8,204.9L576.0,205.0L576.2,205.0L576.4,205.0L576.6,205.1L576.8,205.1L577.0,205.2L577.2,205.2L577.4,205.2L577.6,205.3L577.8,205.3L578.0,205.3L578.2,205.4L578.4,205.4L578.6,205.4L578.9,205.5L579.1,205.5L579.3,205.5L579.5,205.5L579.7,205.6L579.9,205.6L580.1,205.6L580.3,205.6L580.5,205.7L580.7,205.7L580.9,205.7L581.1,205.8L581.3,205.8L581.5,205.8L581.7,205.8L581.9,205.8L582.1,205.9L582.3,205.9L582.5,205.9L582.7,205.9L582.9,206.0L583.1,206.0L583.3,206.0L583.5,206.0L583.7,206.0L583.9,206.1L584.1,206.1L584.3,206.1L584.5,206.1L584.7,206.1L584.9,206.2L585.2,206.2L585.4,206.2L585.6,206.2L585.8,206.2L586.0,206.2L586.2,206.3L586.4,206.3L586.6,206.3L586.8,206.3L587.0,206.3L587.2,206.3L587.4,206.3L587.6,206.4L587.8,206.4L588.0,206.4L588.2,206.4L588.4,206.4L588.6,206.4L588.8,206.4L589.0,206.5L589.2,206.5L589.4,206.5L589.6,206.5L589.8,206.5L590.0,206.5L590.2,206.5L590.4,206.5L590.6,206.5L590.8,206.6L591.0,206.6L591.3,206.6L591.5,206.6L591.7,206.6L591.9,206.6L592.1,206.6L592.3,206.6L592.5,206.6L592.7,206.6L592.9,206.6L593.1,206.7L593.3,206.7L593.5,206.7L593.7,206.7L593.9,206.7L594.1,206.7L594.3,206.7L594.5,206.7L594.7,206.7L594.9,206.7L595.1,206.7L595.3,206.7L595.5,206.7L595.7,206.7L595.9,206.7L596.1,206.7L596.3,206.7L596.5,206.7L596.7,206.7L596.9,206.8L597.1,206.8L597.3,206.8L597.6,206.8L597.8,206.8L598.0,206.8L598.2,206.8L598.4,206.8L598.6,206.8L598.8,206.8L599.0,206.8L599.2,206.8L599.4,206.8L599.6,206.8L599.8,206.8L600.0,206.8L600.2,206.8L600.4,206.8L600.6,206.8L600.8,206.8L601.0,206.8L601.2,206.8L601.4,206.8L601.6,206.8L601.8,206.8L602.0,206.8L602.2,206.8L602.4,206.8L602.6,206.8L602.8,206.8L603.0,206.8L603.2,206.8L603.4,206.8L603.6,206.8L603.9,206.7L604.1,206.7L604.3,206.7L604.5,206.7L604.7,206.7L604.9,206.7L605.1,206.7L605.3,206.7L605.5,206.7L605.7,206.7L605.9,206.7L606.1,206.7L606.3,206.7L606.5,206.7L606.7,206.7L606.9,206.7L607.1,206.7L607.3,206.7L607.5,206.7L607.7,206.7L607.9,206.7L608.1,206.6L608.3,206.6L608.5,206.6L608.7,206.6L608.9,206.6L609.1,206.6L609.3,206.6L609.5,206.6L609.7,206.6L610.0,206.6L610.2,206.6L610.4,206.6L610.6,206.6L610.8,206.6L611.0,206.6L611.2,206.5L611.4,206.5L611.6,206.5L611.8,206.5L612.0,206.5L612.2,206.5L612.4,206.5L612.6,206.5L612.8,206.5L613.0,206.5L613.2,206.5L613.4,206.4L613.6,206.4L613.8,206.4L614.0,206.4L614.2,206.4L614.4,206.4L614.6,206.4L614.8,206.4L615.0,206.4L615.2,206.4L615.4,206.4L615.6,206.3L615.8,206.3L616.0,206.3L616.3,206.3L616.5,206.3L616.7,206.3L616.9,206.3L617.1,206.3L617.3,206.3L617.5,206.2L617.7,206.2L617.9,206.2L618.1,206.2L618.3,206.2L618.5,206.2L618.7,206.2L618.9,206.1L619.1,206.1L619.3,206.1L619.5,206.1L619.7,206.1L619.9,206.1L620.1,206.0L620.3,206.0L620.5,206.0L620.7,206.0L620.9,205.9L621.1,205.9L621.3,205.9L621.5,205.9L621.7,205.8L621.9,205.8L622.1,205.8L622.4,205.7L622.6,205.7L622.8,205.7L623.0,205.7L623.2,205.6L623.4,205.6L623.6,205.6L623.8,205.5L624.0,205.5L624.2,205.5L624.4,205.4L624.6,205.4L624.8,205.3L625.0,205.3L625.2,205.3L625.4,205.2L625.6,205.2L625.8,205.1L626.0,205.1L626.2,205.1L626.4,205.0L626.6,205.0L626.8,204.9L627.0,204.9L627.2,204.8L627.4,204.8L627.6,204.8L627.8,204.7L628.0,204.7L628.2,204.6L628.4,204.6L628.7,204.5L628.9,204.5L629.1,204.4L629.3,204.4L629.5,204.3L629.7,204.3L629.9,204.2L630.1,204.2L630.3,204.1L630.5,204.0L630.7,204.0L630.9,203.9L631.1,203.9L631.3,203.8L631.5,203.7L631.7,203.7L631.9,203.6L632.1,203.5L632.3,203.4L632.5,203.3L632.7,203.3L632.9,203.2L633.1,203.1L633.3,203.0L633.5,202.9L633.7,202.8L633.9,202.7L634.1,202.6L634.3,202.4L634.5,202.3L634.7,202.2L635.0,202.1L635.2,202.0L635.4,201.8L635.6,201.7L635.8,201.6L636.0,201.4L636.2,201.3L636.4,201.2L636.6,201.0L636.8,200.9L637.0,200.7L637.2,200.5L637.4,200.4L637.6,200.2L637.8,200.0L638.0,199.8L638.2,199.6L638.4,199.3L638.6,199.1L638.8,198.9L639.0,198.6L639.2,198.4L639.4,198.1L639.6,197.8L639.8,197.5L640.0,197.2L640.2,196.9L640.4,196.6L640.6,196.3L640.8,196.0L641.1,195.7L641.3,195.3L641.5,195.0L641.7,194.7L641.9,194.3L642.1,194.0L642.3,193.6L642.5,193.2L642.7,192.8L642.9,192.5L643.1,192.1L643.3,191.7L643.5,191.3L643.7,190.9L643.9,190.5L644.1,190.1L644.3,189.7L644.5,189.3L644.7,188.9L644.9,188.4L645.1,188.0L645.3,187.5L645.5,187.0L645.7,186.5L645.9,186.0L646.1,185.5L646.3,184.9L646.5,184.4L646.7,183.8L646.9,183.2L647.1,182.6L647.4,182.0L647.6,181.4L647.8,180.7L648.0,180.1L648.2,179.4L648.4,178.7L648.6,178.1L648.8,177.4L649.0,176.7L649.2,175.9L649.4,175.2L649.6,174.5L649.8,173.8L650.0,173.0L650.2,172.3L650.4,171.5L650.6,170.7L650.8,170.0L651.0,169.2L651.2,168.4L651.4,167.6L651.6,166.8L651.8,165.9L652.0,165.0L652.2,164.1L652.4,163.1L652.6,162.0L652.8,160.8L653.0,159.5L653.2,158.1L653.5,156.4L653.7,154.5L653.9,152.5L654.1,150.4L654.3,148.2L654.5,146.0L654.7,143.7L654.9,141.4L655.1,139.2L655.3,137.0L655.5,134.8L655.7,132.7L655.9,130.4L656.1,128.2L656.3,125.9L656.5,123.6L656.7,121.4L656.9,119.1L657.1,116.9L657.3,114.7L657.5,112.5L657.7,110.4L657.9,108.3L658.1,106.2L658.3,104.1L658.5,102.0L658.7,100.0L658.9,97.9L659.1,95.9L659.3,93.9L659.5,91.9L659.8,89.9L660.0,87.9L660.2,85.9L660.4,84.0L660.6,82.0L660.8,80.0L661.0,78.0L661.2,76.0L661.4,74.0L661.6,72.0L661.8,70.0L662.0,68.0L662.2,66.1L662.4,64.1L662.6,62.2L662.8,60.3L663.0,58.4L663.2,56.6L663.4,54.8L663.6,53.0L663.8,51.4L664.0,49.7L664.2,48.0L664.4,46.2L664.6,44.5L664.8,42.7L665.0,40.9L665.2,39.2L665.4,37.6L665.6,36.0L665.9,34.5L666.1,33.2L666.3,32.0L666.5,30.9L666.7,30.1L666.9,29.4L667.1,29.0L667.3,28.5L667.5,28.2L667.7,27.8L667.9,27.4L668.1,27.1L668.3,26.8L668.5,26.5L668.7,26.2L668.9,25.9L669.1,25.7L669.3,25.4L669.5,25.2L669.7,25.0L669.9,24.8L670.1,24.6L670.3,24.5L670.5,24.3L670.7,24.2L670.9,24.0L671.1,23.9L671.3,23.8L671.5,23.7L671.7,23.6L671.9,23.6L672.2,23.5L672.4,23.4L672.6,23.4L672.8,23.3L673.0,23.2L673.2,23.2L673.4,23.1L673.6,23.1L673.8,23.1L674.0,23.0L674.2,23.0L674.4,23.0L674.6,22.9L674.8,22.9L675.0,22.9L675.2,22.8L675.4,22.8L675.6,22.8L675.8,22.7L676.0,22.7L676.2,22.7L676.4,22.6L676.6,22.6L676.8,22.6L677.0,22.5L677.2,22.5L677.4,22.4L677.6,22.4L677.8,22.3L678.0,22.3L678.2,22.2L678.5,22.1L678.7,22.1L678.9,22.0L679.1,21.9L679.3,21.8L679.5,21.7L679.7,21.5L679.9,21.3L680.1,21.1L680.3,20.9L680.5,20.6L680.7,20.3L680.9,20.0L681.1,19.6L681.3,19.3L681.5,18.9L681.7,18.5L681.9,18.2L682.1,17.8L682.3,17.4L682.5,17.0L682.7,16.6L682.9,16.2" fill="none" stroke="#0000ff" stroke-width="1.6" stroke-dasharray="5.5 3.5"/>
</svg>
<rect x="443.4" y="18.7" width="72" height="51.6" fill="#fff" stroke="#444" stroke-width="0.9"/>
<line x1="445.5" y1="25.3" x2="468.3" y2="25.3" stroke="#000" stroke-width="1.3" stroke-dasharray="3.2 1.5 1.6 1.5"/>
<line x1="446" y1="38.4" x2="468.5" y2="38.4" stroke="#22dd22" stroke-width="1.3" stroke-dasharray="1.3 1.3"/>
<line x1="445.5" y1="50.8" x2="468.3" y2="50.8" stroke="#0000ff" stroke-width="1.5" stroke-dasharray="4 3.3"/>
<line x1="446" y1="63.7" x2="468.5" y2="63.7" stroke="#ff0000" stroke-width="1.3" />
<text x="470" y="29.1" font-family="Liberation Serif" font-size="10.7" fill="#111" text-anchor="start" >WI</text>
<text x="470" y="42.199999999999996" font-family="Liberation Serif" font-size="10.7" fill="#111" text-anchor="start" >WII</text>
<text x="470" y="54.599999999999994" font-family="Liberation Serif" font-size="10.7" fill="#111" text-anchor="start" >Simulated</text>
<text x="470" y="67.5" font-family="Liberation Serif" font-size="10.7" fill="#111" text-anchor="start" >Measured</text>
<rect x="37.6" y="296.3" width="112.0" height="16.6" fill="#aee4f6"/>
<rect x="37.6" y="186.3" width="112.0" height="207.2" fill="none" stroke="#7a7a7a" stroke-width="1"/>
<line x1="85.1" y1="393.5" x2="85.1" y2="391.0" stroke="#7a7a7a" stroke-width="1" />
<line x1="85.1" y1="186.3" x2="85.1" y2="188.8" stroke="#7a7a7a" stroke-width="1" />
<line x1="132.6" y1="393.5" x2="132.6" y2="391.0" stroke="#7a7a7a" stroke-width="1" />
<line x1="132.6" y1="186.3" x2="132.6" y2="188.8" stroke="#7a7a7a" stroke-width="1" />
<text transform="translate(37.60,407.80) scale(0.9,1)" x="0" y="0" font-family="Liberation Sans" font-size="11.6" fill="#262626" text-anchor="middle" >0</text>
<text transform="translate(85.10,407.80) scale(0.9,1)" x="0" y="0" font-family="Liberation Sans" font-size="11.6" fill="#262626" text-anchor="middle" >0.2</text>
<text transform="translate(132.60,407.80) scale(0.9,1)" x="0" y="0" font-family="Liberation Sans" font-size="11.6" fill="#262626" text-anchor="middle" >0.4</text>
<line x1="37.6" y1="393.5" x2="40.1" y2="393.5" stroke="#7a7a7a" stroke-width="1" />
<line x1="149.6" y1="393.5" x2="147.1" y2="393.5" stroke="#7a7a7a" stroke-width="1" />
<text transform="translate(34.10,397.80) scale(0.9,1)" x="0" y="0" font-family="Liberation Sans" font-size="11.6" fill="#262626" text-anchor="end" >0</text>
<line x1="37.6" y1="358.95" x2="40.1" y2="358.95" stroke="#7a7a7a" stroke-width="1" />
<line x1="149.6" y1="358.95" x2="147.1" y2="358.95" stroke="#7a7a7a" stroke-width="1" />
<text transform="translate(34.10,363.25) scale(0.9,1)" x="0" y="0" font-family="Liberation Sans" font-size="11.6" fill="#262626" text-anchor="end" >1</text>
<line x1="37.6" y1="324.4" x2="40.1" y2="324.4" stroke="#7a7a7a" stroke-width="1" />
<line x1="149.6" y1="324.4" x2="147.1" y2="324.4" stroke="#7a7a7a" stroke-width="1" />
<text transform="translate(34.10,328.70) scale(0.9,1)" x="0" y="0" font-family="Liberation Sans" font-size="11.6" fill="#262626" text-anchor="end" >2</text>
<line x1="37.6" y1="289.85" x2="40.1" y2="289.85" stroke="#7a7a7a" stroke-width="1" />
<line x1="149.6" y1="289.85" x2="147.1" y2="289.85" stroke="#7a7a7a" stroke-width="1" />
<text transform="translate(34.10,294.15) scale(0.9,1)" x="0" y="0" font-family="Liberation Sans" font-size="11.6" fill="#262626" text-anchor="end" >3</text>
<line x1="37.6" y1="255.3" x2="40.1" y2="255.3" stroke="#7a7a7a" stroke-width="1" />
<line x1="149.6" y1="255.3" x2="147.1" y2="255.3" stroke="#7a7a7a" stroke-width="1" />
<text transform="translate(34.10,259.60) scale(0.9,1)" x="0" y="0" font-family="Liberation Sans" font-size="11.6" fill="#262626" text-anchor="end" >4</text>
<line x1="37.6" y1="220.75" x2="40.1" y2="220.75" stroke="#7a7a7a" stroke-width="1" />
<line x1="149.6" y1="220.75" x2="147.1" y2="220.75" stroke="#7a7a7a" stroke-width="1" />
<text transform="translate(34.10,225.05) scale(0.9,1)" x="0" y="0" font-family="Liberation Sans" font-size="11.6" fill="#262626" text-anchor="end" >5</text>
<line x1="37.6" y1="186.20000000000002" x2="40.1" y2="186.20000000000002" stroke="#7a7a7a" stroke-width="1" />
<line x1="149.6" y1="186.20000000000002" x2="147.1" y2="186.20000000000002" stroke="#7a7a7a" stroke-width="1" />
<text transform="translate(34.10,190.50) scale(0.9,1)" x="0" y="0" font-family="Liberation Sans" font-size="11.6" fill="#262626" text-anchor="end" >6</text>
<text x="94.1" y="421.5" font-family="Liberation Serif" font-size="13" fill="#555555" text-anchor="middle" xml:space="preserve"><tspan font-style="italic">β</tspan>  (cm<tspan font-size="9" dy="-4.5">−1</tspan><tspan dy="4.5">)</tspan></text>
<text x="123.6" y="386.8" font-family="Liberation Serif" font-size="18" fill="#111" text-anchor="middle" >WI</text>
<svg x="37.6" y="186.3" width="112.0" height="207.2" viewBox="37.6 186.3 112.0 207.2" overflow="hidden">
<path d="M37.6,393.5L149.6,304.0" fill="none" stroke="#0000ff" stroke-width="1.15"/>
<path d="M149.6,304.0L37.6,214.5" fill="none" stroke="#0000ff" stroke-width="1.15"/>
<path d="M37.6,214.5L85.1,176.6" fill="none" stroke="#0000ff" stroke-width="1.15"/>
<path d="M37.6,214.5L39.0,214.4L40.4,214.3L41.9,214.1L43.3,214.0L44.7,213.8L46.1,213.7L47.5,213.5L48.9,213.4L50.4,213.2L51.8,213.0L53.2,212.9L54.6,212.7L56.0,212.5L57.4,212.3L58.9,212.1L60.3,211.9L61.7,211.7L63.1,211.5L64.5,211.3L65.9,211.1L67.4,210.9L68.8,210.7L70.2,210.5L71.6,210.2L73.0,210.0L74.5,209.8L75.9,209.5L77.3,209.3L78.7,209.0L80.1,208.8L81.5,208.5L83.0,208.3L84.4,208.0L85.8,207.7L87.2,207.5L88.6,207.2L90.0,206.9L91.5,206.6L92.9,206.3L94.3,206.0L95.7,205.7L97.1,205.4L98.6,205.1L100.0,204.8L101.4,204.5L102.8,204.2L104.2,203.8L105.6,203.5L107.1,203.2L108.5,202.8L109.9,202.5L111.3,202.2L112.7,201.8L114.1,201.4L115.6,201.1L117.0,200.7L118.4,200.4L119.8,200.0L121.2,199.6L122.6,199.2L124.1,198.8L125.5,198.5L126.9,198.1L128.3,197.7L129.7,197.3L131.2,196.9L132.6,196.5L134.0,196.0L135.4,195.6L136.8,195.2L138.2,194.8L139.7,194.3L141.1,193.9L142.5,193.5L143.9,193.0L145.3,192.6L146.7,192.1L148.2,191.7L149.6,191.2" fill="none" stroke="#ff0000" stroke-width="1.15"/>
<path d="M37.6,141.5L39.0,142.3L40.4,143.1L41.9,143.9L43.3,144.7L44.7,145.5L46.1,146.2L47.5,147.0L48.9,147.8L50.4,148.5L51.8,149.3L53.2,150.0L54.6,150.8L56.0,151.5L57.4,152.3L58.9,153.0L60.3,153.7L61.7,154.5L63.1,155.2L64.5,155.9L65.9,156.6L67.4,157.3L68.8,158.0L70.2,158.7L71.6,159.4L73.0,160.1L74.5,160.8L75.9,161.5L77.3,162.2L78.7,162.8L80.1,163.5L81.5,164.2L83.0,164.8L84.4,165.5L85.8,166.2L87.2,166.8L88.6,167.4L90.0,168.1L91.5,168.7L92.9,169.4L94.3,170.0L95.7,170.6L97.1,171.2L98.6,171.9L100.0,172.5L101.4,173.1L102.8,173.7L104.2,174.3L105.6,174.9L107.1,175.5L108.5,176.0L109.9,176.6L111.3,177.2L112.7,177.8L114.1,178.3L115.6,178.9L117.0,179.5L118.4,180.0L119.8,180.6L121.2,181.1L122.6,181.7L124.1,182.2L125.5,182.8L126.9,183.3L128.3,183.8L129.7,184.3L131.2,184.9L132.6,185.4L134.0,185.9L135.4,186.4L136.8,186.9L138.2,187.4L139.7,187.9L141.1,188.4L142.5,188.9L143.9,189.3L145.3,189.8L146.7,190.3L148.2,190.8L149.6,191.2" fill="none" stroke="#ff0000" stroke-width="1.15"/>
</svg>
<circle cx="42.1" cy="390.0" r="1.85" fill="#0000ff"/>
<circle cx="46.6" cy="386.5" r="1.85" fill="#0000ff"/>
<circle cx="51.0" cy="382.9" r="1.85" fill="#0000ff"/>
<circle cx="55.5" cy="379.4" r="1.85" fill="#0000ff"/>
<circle cx="60.0" cy="375.9" r="1.85" fill="#0000ff"/>
<circle cx="64.5" cy="372.3" r="1.85" fill="#0000ff"/>
<circle cx="69.0" cy="368.8" r="1.85" fill="#0000ff"/>
<circle cx="73.4" cy="365.3" r="1.85" fill="#0000ff"/>
<circle cx="77.9" cy="361.7" r="1.85" fill="#0000ff"/>
<circle cx="82.4" cy="358.2" r="1.85" fill="#0000ff"/>
<circle cx="86.9" cy="354.7" r="1.85" fill="#0000ff"/>
<circle cx="91.4" cy="351.2" r="1.85" fill="#0000ff"/>
<circle cx="95.8" cy="347.7" r="1.85" fill="#0000ff"/>
<circle cx="100.3" cy="344.2" r="1.85" fill="#0000ff"/>
<circle cx="104.8" cy="340.8" r="1.85" fill="#0000ff"/>
<circle cx="109.3" cy="337.3" r="1.85" fill="#0000ff"/>
<circle cx="113.7" cy="333.9" r="1.85" fill="#0000ff"/>
<circle cx="118.2" cy="330.5" r="1.85" fill="#0000ff"/>
<circle cx="122.7" cy="327.2" r="1.85" fill="#0000ff"/>
<circle cx="127.2" cy="324.0" r="1.85" fill="#0000ff"/>
<circle cx="131.7" cy="320.9" r="1.85" fill="#0000ff"/>
<circle cx="136.1" cy="318.0" r="1.85" fill="#0000ff"/>
<circle cx="140.6" cy="315.5" r="1.85" fill="#0000ff"/>
<circle cx="145.1" cy="313.7" r="1.85" fill="#0000ff"/>
<circle cx="149.6" cy="313.0" r="1.85" fill="#0000ff"/>
<circle cx="37.6" cy="226.6" r="1.85" fill="#0000ff"/>
<circle cx="42.1" cy="227.1" r="1.85" fill="#0000ff"/>
<circle cx="46.6" cy="228.4" r="1.85" fill="#0000ff"/>
<circle cx="51.0" cy="230.5" r="1.85" fill="#0000ff"/>
<circle cx="55.5" cy="233.0" r="1.85" fill="#0000ff"/>
<circle cx="60.0" cy="235.7" r="1.85" fill="#0000ff"/>
<circle cx="64.5" cy="238.7" r="1.85" fill="#0000ff"/>
<circle cx="69.0" cy="241.9" r="1.85" fill="#0000ff"/>
<circle cx="73.4" cy="245.1" r="1.85" fill="#0000ff"/>
<circle cx="77.9" cy="248.3" r="1.85" fill="#0000ff"/>
<circle cx="82.4" cy="251.6" r="1.85" fill="#0000ff"/>
<circle cx="86.9" cy="255.0" r="1.85" fill="#0000ff"/>
<circle cx="91.4" cy="258.3" r="1.85" fill="#0000ff"/>
<circle cx="95.8" cy="261.7" r="1.85" fill="#0000ff"/>
<circle cx="100.3" cy="265.1" r="1.85" fill="#0000ff"/>
<circle cx="104.8" cy="268.4" r="1.85" fill="#0000ff"/>
<circle cx="109.3" cy="271.8" r="1.85" fill="#0000ff"/>
<circle cx="113.7" cy="275.1" r="1.85" fill="#0000ff"/>
<circle cx="118.2" cy="278.4" r="1.85" fill="#0000ff"/>
<circle cx="122.7" cy="281.7" r="1.85" fill="#0000ff"/>
<circle cx="127.2" cy="284.9" r="1.85" fill="#0000ff"/>
<circle cx="131.7" cy="287.9" r="1.85" fill="#0000ff"/>
<circle cx="136.1" cy="290.7" r="1.85" fill="#0000ff"/>
<circle cx="140.6" cy="293.1" r="1.85" fill="#0000ff"/>
<circle cx="145.1" cy="294.8" r="1.85" fill="#0000ff"/>
<circle cx="149.6" cy="295.0" r="1.85" fill="#0000ff"/>
<circle cx="37.6" cy="214.4" r="1.85" fill="#0000ff"/>
<circle cx="42.1" cy="214.3" r="1.85" fill="#0000ff"/>
<circle cx="46.6" cy="214.1" r="1.85" fill="#0000ff"/>
<circle cx="51.0" cy="213.9" r="1.85" fill="#0000ff"/>
<circle cx="55.5" cy="213.7" r="1.85" fill="#0000ff"/>
<circle cx="60.0" cy="213.4" r="1.85" fill="#0000ff"/>
<circle cx="64.5" cy="213.1" r="1.85" fill="#0000ff"/>
<circle cx="69.0" cy="212.7" r="1.85" fill="#0000ff"/>
<circle cx="73.4" cy="212.4" r="1.85" fill="#0000ff"/>
<circle cx="77.9" cy="212.0" r="1.85" fill="#0000ff"/>
<circle cx="82.4" cy="211.6" r="1.85" fill="#0000ff"/>
<circle cx="86.9" cy="211.1" r="1.85" fill="#0000ff"/>
<circle cx="91.4" cy="210.7" r="1.85" fill="#0000ff"/>
<circle cx="95.8" cy="210.2" r="1.85" fill="#0000ff"/>
<circle cx="100.3" cy="209.7" r="1.85" fill="#0000ff"/>
<circle cx="104.8" cy="209.2" r="1.85" fill="#0000ff"/>
<circle cx="109.3" cy="208.7" r="1.85" fill="#0000ff"/>
<circle cx="113.7" cy="208.2" r="1.85" fill="#0000ff"/>
<circle cx="118.2" cy="207.6" r="1.85" fill="#0000ff"/>
<circle cx="122.7" cy="207.0" r="1.85" fill="#0000ff"/>
<circle cx="127.2" cy="206.4" r="1.85" fill="#0000ff"/>
<circle cx="131.7" cy="205.8" r="1.85" fill="#0000ff"/>
<circle cx="136.1" cy="205.2" r="1.85" fill="#0000ff"/>
<circle cx="140.6" cy="204.6" r="1.85" fill="#0000ff"/>
<circle cx="145.1" cy="204.0" r="1.85" fill="#0000ff"/>
<circle cx="149.6" cy="203.3" r="1.85" fill="#0000ff"/>
<circle cx="37.6" cy="201.7" r="1.85" fill="#0000ff"/>
<circle cx="42.1" cy="201.2" r="1.85" fill="#0000ff"/>
<circle cx="46.6" cy="199.8" r="1.85" fill="#0000ff"/>
<circle cx="51.0" cy="197.7" r="1.85" fill="#0000ff"/>
<circle cx="55.5" cy="195.1" r="1.85" fill="#0000ff"/>
<circle cx="60.0" cy="192.3" r="1.85" fill="#0000ff"/>
<circle cx="64.5" cy="189.2" r="1.85" fill="#0000ff"/>
<circle cx="69.0" cy="186.0" r="1.85" fill="#0000ff"/>
<text x="0" y="0" font-family="Liberation Serif" font-size="13" fill="#555555" text-anchor="middle" xml:space="preserve" transform="translate(22,289.5) rotate(-90)"><tspan font-style="italic">f</tspan>  (kHz)</text>
<rect x="208.6" y="296.3" width="112.00000000000003" height="16.6" fill="#aee4f6"/>
<rect x="208.6" y="186.3" width="112.00000000000003" height="207.2" fill="none" stroke="#7a7a7a" stroke-width="1"/>
<line x1="256.1" y1="393.5" x2="256.1" y2="391.0" stroke="#7a7a7a" stroke-width="1" />
<line x1="256.1" y1="186.3" x2="256.1" y2="188.8" stroke="#7a7a7a" stroke-width="1" />
<line x1="303.6" y1="393.5" x2="303.6" y2="391.0" stroke="#7a7a7a" stroke-width="1" />
<line x1="303.6" y1="186.3" x2="303.6" y2="188.8" stroke="#7a7a7a" stroke-width="1" />
<text transform="translate(208.60,407.80) scale(0.9,1)" x="0" y="0" font-family="Liberation Sans" font-size="11.6" fill="#262626" text-anchor="middle" >0</text>
<text transform="translate(256.10,407.80) scale(0.9,1)" x="0" y="0" font-family="Liberation Sans" font-size="11.6" fill="#262626" text-anchor="middle" >0.2</text>
<text transform="translate(303.60,407.80) scale(0.9,1)" x="0" y="0" font-family="Liberation Sans" font-size="11.6" fill="#262626" text-anchor="middle" >0.4</text>
<line x1="208.6" y1="393.5" x2="211.1" y2="393.5" stroke="#7a7a7a" stroke-width="1" />
<line x1="320.6" y1="393.5" x2="318.1" y2="393.5" stroke="#7a7a7a" stroke-width="1" />
<text transform="translate(205.10,397.80) scale(0.9,1)" x="0" y="0" font-family="Liberation Sans" font-size="11.6" fill="#262626" text-anchor="end" >0</text>
<line x1="208.6" y1="358.95" x2="211.1" y2="358.95" stroke="#7a7a7a" stroke-width="1" />
<line x1="320.6" y1="358.95" x2="318.1" y2="358.95" stroke="#7a7a7a" stroke-width="1" />
<text transform="translate(205.10,363.25) scale(0.9,1)" x="0" y="0" font-family="Liberation Sans" font-size="11.6" fill="#262626" text-anchor="end" >1</text>
<line x1="208.6" y1="324.4" x2="211.1" y2="324.4" stroke="#7a7a7a" stroke-width="1" />
<line x1="320.6" y1="324.4" x2="318.1" y2="324.4" stroke="#7a7a7a" stroke-width="1" />
<text transform="translate(205.10,328.70) scale(0.9,1)" x="0" y="0" font-family="Liberation Sans" font-size="11.6" fill="#262626" text-anchor="end" >2</text>
<line x1="208.6" y1="289.85" x2="211.1" y2="289.85" stroke="#7a7a7a" stroke-width="1" />
<line x1="320.6" y1="289.85" x2="318.1" y2="289.85" stroke="#7a7a7a" stroke-width="1" />
<text transform="translate(205.10,294.15) scale(0.9,1)" x="0" y="0" font-family="Liberation Sans" font-size="11.6" fill="#262626" text-anchor="end" >3</text>
<line x1="208.6" y1="255.3" x2="211.1" y2="255.3" stroke="#7a7a7a" stroke-width="1" />
<line x1="320.6" y1="255.3" x2="318.1" y2="255.3" stroke="#7a7a7a" stroke-width="1" />
<text transform="translate(205.10,259.60) scale(0.9,1)" x="0" y="0" font-family="Liberation Sans" font-size="11.6" fill="#262626" text-anchor="end" >4</text>
<line x1="208.6" y1="220.75" x2="211.1" y2="220.75" stroke="#7a7a7a" stroke-width="1" />
<line x1="320.6" y1="220.75" x2="318.1" y2="220.75" stroke="#7a7a7a" stroke-width="1" />
<text transform="translate(205.10,225.05) scale(0.9,1)" x="0" y="0" font-family="Liberation Sans" font-size="11.6" fill="#262626" text-anchor="end" >5</text>
<line x1="208.6" y1="186.20000000000002" x2="211.1" y2="186.20000000000002" stroke="#7a7a7a" stroke-width="1" />
<line x1="320.6" y1="186.20000000000002" x2="318.1" y2="186.20000000000002" stroke="#7a7a7a" stroke-width="1" />
<text transform="translate(205.10,190.50) scale(0.9,1)" x="0" y="0" font-family="Liberation Sans" font-size="11.6" fill="#262626" text-anchor="end" >6</text>
<text x="265.1" y="421.5" font-family="Liberation Serif" font-size="13" fill="#555555" text-anchor="middle" xml:space="preserve"><tspan font-style="italic">β</tspan>  (cm<tspan font-size="9" dy="-4.5">−1</tspan><tspan dy="4.5">)</tspan></text>
<text x="297.1" y="386.8" font-family="Liberation Serif" font-size="18" fill="#111" text-anchor="middle" >WII</text>
<svg x="208.6" y="186.3" width="112.00000000000003" height="207.2" viewBox="208.6 186.3 112.00000000000003 207.2" overflow="hidden">
<path d="M208.6,393.5L320.6,300.6" fill="none" stroke="#0000ff" stroke-width="1.15"/>
<path d="M320.6,300.6L208.6,207.6" fill="none" stroke="#0000ff" stroke-width="1.15"/>
<path d="M208.6,207.6L256.1,168.2" fill="none" stroke="#0000ff" stroke-width="1.15"/>
<path d="M208.6,272.6L210.0,272.6L211.4,272.6L212.9,272.5L214.3,272.5L215.7,272.4L217.1,272.4L218.5,272.3L219.9,272.2L221.4,272.1L222.8,272.0L224.2,271.9L225.6,271.8L227.0,271.6L228.4,271.5L229.9,271.3L231.3,271.1L232.7,271.0L234.1,270.8L235.5,270.6L236.9,270.3L238.4,270.1L239.8,269.9L241.2,269.6L242.6,269.4L244.0,269.1L245.5,268.8L246.9,268.5L248.3,268.2L249.7,267.9L251.1,267.6L252.5,267.3L254.0,266.9L255.4,266.6L256.8,266.2L258.2,265.9L259.6,265.5L261.0,265.1L262.5,264.7L263.9,264.3L265.3,263.9L266.7,263.5L268.1,263.0L269.6,262.6L271.0,262.1L272.4,261.7L273.8,261.2L275.2,260.7L276.6,260.2L278.1,259.7L279.5,259.2L280.9,258.7L282.3,258.2L283.7,257.7L285.1,257.1L286.6,256.6L288.0,256.0L289.4,255.5L290.8,254.9L292.2,254.3L293.6,253.8L295.1,253.2L296.5,252.6L297.9,252.0L299.3,251.4L300.7,250.7L302.2,250.1L303.6,249.5L305.0,248.9L306.4,248.2L307.8,247.6L309.2,246.9L310.7,246.2L312.1,245.6L313.5,244.9L314.9,244.2L316.3,243.5L317.7,242.8L319.2,242.1L320.6,241.4" fill="none" stroke="#ff0000" stroke-width="1.15"/>
<path d="M208.6,173.0L210.0,174.0L211.4,174.9L212.9,175.9L214.3,176.9L215.7,177.8L217.1,178.8L218.5,179.8L219.9,180.7L221.4,181.7L222.8,182.6L224.2,183.6L225.6,184.6L227.0,185.5L228.4,186.5L229.9,187.4L231.3,188.3L232.7,189.3L234.1,190.2L235.5,191.2L236.9,192.1L238.4,193.0L239.8,194.0L241.2,194.9L242.6,195.8L244.0,196.7L245.5,197.6L246.9,198.6L248.3,199.5L249.7,200.4L251.1,201.3L252.5,202.2L254.0,203.1L255.4,204.0L256.8,204.9L258.2,205.8L259.6,206.7L261.0,207.6L262.5,208.5L263.9,209.3L265.3,210.2L266.7,211.1L268.1,212.0L269.6,212.8L271.0,213.7L272.4,214.6L273.8,215.4L275.2,216.3L276.6,217.1L278.1,218.0L279.5,218.8L280.9,219.7L282.3,220.5L283.7,221.3L285.1,222.2L286.6,223.0L288.0,223.8L289.4,224.6L290.8,225.4L292.2,226.2L293.6,227.1L295.1,227.9L296.5,228.6L297.9,229.4L299.3,230.2L300.7,231.0L302.2,231.8L303.6,232.6L305.0,233.3L306.4,234.1L307.8,234.8L309.2,235.6L310.7,236.3L312.1,237.1L313.5,237.8L314.9,238.6L316.3,239.3L317.7,240.0L319.2,240.7L320.6,241.4" fill="none" stroke="#ff0000" stroke-width="1.15"/>
</svg>
<circle cx="213.1" cy="390.1" r="1.85" fill="#0000ff"/>
<circle cx="217.6" cy="386.6" r="1.85" fill="#0000ff"/>
<circle cx="222.0" cy="383.0" r="1.85" fill="#0000ff"/>
<circle cx="226.5" cy="379.4" r="1.85" fill="#0000ff"/>
<circle cx="231.0" cy="375.9" r="1.85" fill="#0000ff"/>
<circle cx="235.5" cy="372.3" r="1.85" fill="#0000ff"/>
<circle cx="240.0" cy="368.7" r="1.85" fill="#0000ff"/>
<circle cx="244.4" cy="365.2" r="1.85" fill="#0000ff"/>
<circle cx="248.9" cy="361.6" r="1.85" fill="#0000ff"/>
<circle cx="253.4" cy="358.1" r="1.85" fill="#0000ff"/>
<circle cx="257.9" cy="354.5" r="1.85" fill="#0000ff"/>
<circle cx="262.4" cy="351.0" r="1.85" fill="#0000ff"/>
<circle cx="266.8" cy="347.5" r="1.85" fill="#0000ff"/>
<circle cx="271.3" cy="343.9" r="1.85" fill="#0000ff"/>
<circle cx="275.8" cy="340.5" r="1.85" fill="#0000ff"/>
<circle cx="280.3" cy="337.0" r="1.85" fill="#0000ff"/>
<circle cx="284.7" cy="333.5" r="1.85" fill="#0000ff"/>
<circle cx="289.2" cy="330.1" r="1.85" fill="#0000ff"/>
<circle cx="293.7" cy="326.8" r="1.85" fill="#0000ff"/>
<circle cx="298.2" cy="323.5" r="1.85" fill="#0000ff"/>
<circle cx="302.7" cy="320.4" r="1.85" fill="#0000ff"/>
<circle cx="307.1" cy="317.5" r="1.85" fill="#0000ff"/>
<circle cx="311.6" cy="315.0" r="1.85" fill="#0000ff"/>
<circle cx="316.1" cy="313.2" r="1.85" fill="#0000ff"/>
<circle cx="320.6" cy="312.7" r="1.85" fill="#0000ff"/>
<circle cx="208.6" cy="275.5" r="1.85" fill="#0000ff"/>
<circle cx="213.1" cy="275.5" r="1.85" fill="#0000ff"/>
<circle cx="217.6" cy="275.3" r="1.85" fill="#0000ff"/>
<circle cx="222.0" cy="275.1" r="1.85" fill="#0000ff"/>
<circle cx="226.5" cy="274.9" r="1.85" fill="#0000ff"/>
<circle cx="231.0" cy="274.6" r="1.85" fill="#0000ff"/>
<circle cx="235.5" cy="274.2" r="1.85" fill="#0000ff"/>
<circle cx="240.0" cy="273.5" r="1.85" fill="#0000ff"/>
<circle cx="244.4" cy="272.9" r="1.85" fill="#0000ff"/>
<circle cx="248.9" cy="272.4" r="1.85" fill="#0000ff"/>
<circle cx="253.4" cy="271.9" r="1.85" fill="#0000ff"/>
<circle cx="257.9" cy="271.6" r="1.85" fill="#0000ff"/>
<circle cx="262.4" cy="271.3" r="1.85" fill="#0000ff"/>
<circle cx="266.8" cy="271.2" r="1.85" fill="#0000ff"/>
<circle cx="271.3" cy="272.0" r="1.85" fill="#0000ff"/>
<circle cx="275.8" cy="273.3" r="1.85" fill="#0000ff"/>
<circle cx="280.3" cy="274.6" r="1.85" fill="#0000ff"/>
<circle cx="284.7" cy="276.2" r="1.85" fill="#0000ff"/>
<circle cx="289.2" cy="278.3" r="1.85" fill="#0000ff"/>
<circle cx="293.7" cy="280.8" r="1.85" fill="#0000ff"/>
<circle cx="298.2" cy="283.3" r="1.85" fill="#0000ff"/>
<circle cx="302.7" cy="285.9" r="1.85" fill="#0000ff"/>
<circle cx="307.1" cy="288.5" r="1.85" fill="#0000ff"/>
<circle cx="311.6" cy="290.8" r="1.85" fill="#0000ff"/>
<circle cx="316.1" cy="292.5" r="1.85" fill="#0000ff"/>
<circle cx="320.6" cy="293.8" r="1.85" fill="#0000ff"/>
<circle cx="208.6" cy="211.8" r="1.85" fill="#0000ff"/>
<circle cx="213.1" cy="213.8" r="1.85" fill="#0000ff"/>
<circle cx="217.6" cy="217.2" r="1.85" fill="#0000ff"/>
<circle cx="222.0" cy="220.3" r="1.85" fill="#0000ff"/>
<circle cx="226.5" cy="223.8" r="1.85" fill="#0000ff"/>
<circle cx="231.0" cy="227.0" r="1.85" fill="#0000ff"/>
<circle cx="235.5" cy="230.5" r="1.85" fill="#0000ff"/>
<circle cx="240.0" cy="234.1" r="1.85" fill="#0000ff"/>
<circle cx="244.4" cy="237.4" r="1.85" fill="#0000ff"/>
<circle cx="248.9" cy="240.6" r="1.85" fill="#0000ff"/>
<circle cx="253.4" cy="243.6" r="1.85" fill="#0000ff"/>
<circle cx="257.9" cy="246.4" r="1.85" fill="#0000ff"/>
<circle cx="262.4" cy="249.1" r="1.85" fill="#0000ff"/>
<circle cx="266.8" cy="251.4" r="1.85" fill="#0000ff"/>
<circle cx="271.3" cy="253.4" r="1.85" fill="#0000ff"/>
<circle cx="275.8" cy="254.6" r="1.85" fill="#0000ff"/>
<circle cx="280.3" cy="255.1" r="1.85" fill="#0000ff"/>
<circle cx="284.7" cy="255.3" r="1.85" fill="#0000ff"/>
<circle cx="289.2" cy="254.9" r="1.85" fill="#0000ff"/>
<circle cx="293.7" cy="254.1" r="1.85" fill="#0000ff"/>
<circle cx="298.2" cy="253.3" r="1.85" fill="#0000ff"/>
<circle cx="302.7" cy="252.6" r="1.85" fill="#0000ff"/>
<circle cx="307.1" cy="251.9" r="1.85" fill="#0000ff"/>
<circle cx="311.6" cy="251.4" r="1.85" fill="#0000ff"/>
<circle cx="316.1" cy="251.0" r="1.85" fill="#0000ff"/>
<circle cx="320.6" cy="250.8" r="1.85" fill="#0000ff"/>
<circle cx="208.6" cy="209.0" r="1.85" fill="#0000ff"/>
<circle cx="213.1" cy="206.9" r="1.85" fill="#0000ff"/>
<circle cx="217.6" cy="204.2" r="1.85" fill="#0000ff"/>
<circle cx="222.0" cy="201.5" r="1.85" fill="#0000ff"/>
<circle cx="226.5" cy="199.0" r="1.85" fill="#0000ff"/>
<circle cx="231.0" cy="197.3" r="1.85" fill="#0000ff"/>
<circle cx="235.5" cy="197.3" r="1.85" fill="#0000ff"/>
<circle cx="240.0" cy="198.6" r="1.85" fill="#0000ff"/>
<circle cx="244.4" cy="200.4" r="1.85" fill="#0000ff"/>
<circle cx="248.9" cy="202.4" r="1.85" fill="#0000ff"/>
<circle cx="253.4" cy="204.5" r="1.85" fill="#0000ff"/>
<circle cx="257.9" cy="206.9" r="1.85" fill="#0000ff"/>
<circle cx="262.4" cy="209.3" r="1.85" fill="#0000ff"/>
<circle cx="266.8" cy="211.6" r="1.85" fill="#0000ff"/>
<circle cx="271.3" cy="213.8" r="1.85" fill="#0000ff"/>
<circle cx="275.8" cy="216.0" r="1.85" fill="#0000ff"/>
<circle cx="280.3" cy="218.2" r="1.85" fill="#0000ff"/>
<circle cx="284.7" cy="220.4" r="1.85" fill="#0000ff"/>
<circle cx="289.2" cy="222.4" r="1.85" fill="#0000ff"/>
<circle cx="293.7" cy="224.3" r="1.85" fill="#0000ff"/>
<circle cx="298.2" cy="226.0" r="1.85" fill="#0000ff"/>
<circle cx="302.7" cy="227.3" r="1.85" fill="#0000ff"/>
<circle cx="307.1" cy="228.4" r="1.85" fill="#0000ff"/>
<circle cx="311.6" cy="229.4" r="1.85" fill="#0000ff"/>
<circle cx="316.1" cy="230.2" r="1.85" fill="#0000ff"/>
<circle cx="320.6" cy="230.8" r="1.85" fill="#0000ff"/>
<circle cx="213.1" cy="185.9" r="1.85" fill="#0000ff"/>
<circle cx="217.6" cy="186.2" r="1.85" fill="#0000ff"/>
<circle cx="222.0" cy="187.2" r="1.85" fill="#0000ff"/>
<circle cx="226.5" cy="188.2" r="1.85" fill="#0000ff"/>
<circle cx="231.0" cy="189.0" r="1.85" fill="#0000ff"/>
<circle cx="235.5" cy="187.6" r="1.85" fill="#0000ff"/>
<circle cx="240.0" cy="186.2" r="1.85" fill="#0000ff"/>
<text x="172.5" y="455" font-family="Liberation Sans" font-size="20" fill="#000" text-anchor="middle" >b</text>
<rect x="393.8" y="283.7" width="288.99999999999994" height="115.90000000000003" fill="none" stroke="#7a7a7a" stroke-width="1"/>
<line x1="407.65999999999997" y1="399.6" x2="407.65999999999997" y2="396.6" stroke="#7a7a7a" stroke-width="1" />
<line x1="407.65999999999997" y1="283.7" x2="407.65999999999997" y2="286.7" stroke="#7a7a7a" stroke-width="1" />
<text transform="translate(407.06,415.10) scale(0.9,1)" x="0" y="0" font-family="Liberation Sans" font-size="11.6" fill="#262626" text-anchor="middle" >-300</text>
<line x1="452.24" y1="399.6" x2="452.24" y2="396.6" stroke="#7a7a7a" stroke-width="1" />
<line x1="452.24" y1="283.7" x2="452.24" y2="286.7" stroke="#7a7a7a" stroke-width="1" />
<text transform="translate(451.64,415.10) scale(0.9,1)" x="0" y="0" font-family="Liberation Sans" font-size="11.6" fill="#262626" text-anchor="middle" >-200</text>
<line x1="496.82" y1="399.6" x2="496.82" y2="396.6" stroke="#7a7a7a" stroke-width="1" />
<line x1="496.82" y1="283.7" x2="496.82" y2="286.7" stroke="#7a7a7a" stroke-width="1" />
<text transform="translate(496.22,415.10) scale(0.9,1)" x="0" y="0" font-family="Liberation Sans" font-size="11.6" fill="#262626" text-anchor="middle" >-100</text>
<line x1="541.4" y1="399.6" x2="541.4" y2="396.6" stroke="#7a7a7a" stroke-width="1" />
<line x1="541.4" y1="283.7" x2="541.4" y2="286.7" stroke="#7a7a7a" stroke-width="1" />
<text transform="translate(540.80,415.10) scale(0.9,1)" x="0" y="0" font-family="Liberation Sans" font-size="11.6" fill="#262626" text-anchor="middle" >0</text>
<line x1="585.98" y1="399.6" x2="585.98" y2="396.6" stroke="#7a7a7a" stroke-width="1" />
<line x1="585.98" y1="283.7" x2="585.98" y2="286.7" stroke="#7a7a7a" stroke-width="1" />
<text transform="translate(585.38,415.10) scale(0.9,1)" x="0" y="0" font-family="Liberation Sans" font-size="11.6" fill="#262626" text-anchor="middle" >100</text>
<line x1="630.56" y1="399.6" x2="630.56" y2="396.6" stroke="#7a7a7a" stroke-width="1" />
<line x1="630.56" y1="283.7" x2="630.56" y2="286.7" stroke="#7a7a7a" stroke-width="1" />
<text transform="translate(629.96,415.10) scale(0.9,1)" x="0" y="0" font-family="Liberation Sans" font-size="11.6" fill="#262626" text-anchor="middle" >200</text>
<line x1="675.14" y1="399.6" x2="675.14" y2="396.6" stroke="#7a7a7a" stroke-width="1" />
<line x1="675.14" y1="283.7" x2="675.14" y2="286.7" stroke="#7a7a7a" stroke-width="1" />
<text transform="translate(674.54,415.10) scale(0.9,1)" x="0" y="0" font-family="Liberation Sans" font-size="11.6" fill="#262626" text-anchor="middle" >300</text>
<line x1="393.8" y1="399.6" x2="396.8" y2="399.6" stroke="#7a7a7a" stroke-width="1" />
<line x1="682.8" y1="399.6" x2="679.8" y2="399.6" stroke="#7a7a7a" stroke-width="1" />
<text transform="translate(390.50,403.90) scale(0.9,1)" x="0" y="0" font-family="Liberation Sans" font-size="11.6" fill="#262626" text-anchor="end" >0</text>
<line x1="393.8" y1="342.45000000000005" x2="396.8" y2="342.45000000000005" stroke="#7a7a7a" stroke-width="1" />
<line x1="682.8" y1="342.45000000000005" x2="679.8" y2="342.45000000000005" stroke="#7a7a7a" stroke-width="1" />
<text transform="translate(390.50,346.75) scale(0.9,1)" x="0" y="0" font-family="Liberation Sans" font-size="11.6" fill="#262626" text-anchor="end" >0.5</text>
<line x1="393.8" y1="285.3" x2="396.8" y2="285.3" stroke="#7a7a7a" stroke-width="1" />
<line x1="682.8" y1="285.3" x2="679.8" y2="285.3" stroke="#7a7a7a" stroke-width="1" />
<text transform="translate(390.50,289.60) scale(0.9,1)" x="0" y="0" font-family="Liberation Sans" font-size="11.6" fill="#262626" text-anchor="end" >1</text>
<text x="539.5" y="430" font-family="Liberation Serif" font-size="13" fill="#555555" text-anchor="middle" xml:space="preserve"><tspan font-style="italic">z</tspan>  (mm)</text>
<text x="0" y="0" font-family="Liberation Serif" font-size="12.8" fill="#555555" text-anchor="middle" transform="translate(369.5,338.5) rotate(-90)">Normalized Pressure</text>
<text x="541.5" y="454" font-family="Liberation Sans" font-size="20" fill="#000" text-anchor="middle" >d</text>
<svg x="393.8" y="283.7" width="288.99999999999994" height="115.90000000000003" viewBox="393.8 283.7 288.99999999999994 115.90000000000003" overflow="hidden">
<path d="M392.1,387.0L392.3,386.9L392.5,386.8L392.7,386.6L393.0,386.5L393.2,386.3L393.4,386.2L393.6,386.1L393.9,385.9L394.1,385.8L394.3,385.7L394.5,385.5L394.8,385.4L395.0,385.3L395.2,385.1L395.4,385.0L395.7,384.9L395.9,384.7L396.1,384.6L396.3,384.5L396.6,384.3L396.8,384.2L397.0,384.1L397.2,384.0L397.5,383.8L397.7,383.7L397.9,383.6L398.1,383.5L398.4,383.3L398.6,383.2L398.8,383.1L399.0,383.0L399.3,382.8L399.5,382.7L399.7,382.6L399.9,382.5L400.2,382.4L400.4,382.3L400.6,382.1L400.8,382.0L401.1,381.9L401.3,381.8L401.5,381.7L401.7,381.6L402.0,381.5L402.2,381.4L402.4,381.3L402.6,381.2L402.9,381.1L403.1,381.0L403.3,380.9L403.5,380.8L403.8,380.7L404.0,380.6L404.2,380.5L404.4,380.4L404.7,380.3L404.9,380.2L405.1,380.1L405.3,380.0L405.6,380.0L405.8,379.9L406.0,379.8L406.2,379.7L406.5,379.6L406.7,379.6L406.9,379.5L407.1,379.4L407.4,379.4L407.6,379.3L407.8,379.2L408.0,379.2L408.3,379.1L408.5,379.0L408.7,379.0L408.9,378.9L409.2,378.9L409.4,378.8L409.6,378.8L409.8,378.7L410.1,378.7L410.3,378.6L410.5,378.6L410.7,378.5L411.0,378.5L411.2,378.4L411.4,378.4L411.6,378.4L411.9,378.3L412.1,378.3L412.3,378.3L412.5,378.3L412.8,378.2L413.0,378.2L413.2,378.2L413.4,378.2L413.7,378.2L413.9,378.1L414.1,378.1L414.3,378.1L414.6,378.1L414.8,378.1L415.0,378.1L415.2,378.1L415.5,378.1L415.7,378.1L415.9,378.1L416.1,378.2L416.4,378.2L416.6,378.3L416.8,378.3L417.1,378.4L417.3,378.4L417.5,378.5L417.7,378.6L418.0,378.7L418.2,378.8L418.4,378.9L418.6,379.0L418.9,379.1L419.1,379.2L419.3,379.3L419.6,379.5L419.8,379.6L420.0,379.8L420.2,379.9L420.5,380.1L420.7,380.2L420.9,380.4L421.1,380.6L421.4,380.7L421.6,380.9L421.8,381.1L422.1,381.3L422.3,381.5L422.5,381.7L422.7,381.9L423.0,382.1L423.2,382.3L423.4,382.5L423.6,382.7L423.9,382.9L424.1,383.1L424.3,383.3L424.6,383.5L424.8,383.7L425.0,383.9L425.2,384.1L425.5,384.3L425.7,384.5L425.9,384.7L426.1,384.9L426.4,385.1L426.6,385.3L426.8,385.5L427.1,385.7L427.3,385.9L427.5,386.1L427.7,386.3L428.0,386.5L428.2,386.6L428.4,386.8L428.6,387.0L428.9,387.1L429.1,387.3L429.3,387.4L429.6,387.6L429.8,387.7L430.0,387.9L430.2,388.0L430.5,388.1L430.7,388.2L430.9,388.3L431.1,388.4L431.4,388.5L431.6,388.6L431.8,388.7L432.1,388.8L432.3,388.8L432.5,388.9L432.7,388.9L433.0,389.0L433.2,389.0L433.4,389.0L433.6,389.1L433.9,389.1L434.1,389.1L434.3,389.1L434.6,389.0L434.8,389.0L435.0,388.9L435.2,388.8L435.5,388.7L435.7,388.6L435.9,388.5L436.1,388.3L436.4,388.1L436.6,387.9L436.8,387.7L437.1,387.5L437.3,387.2L437.5,387.0L437.7,386.7L438.0,386.4L438.2,386.1L438.4,385.7L438.7,385.4L438.9,385.1L439.1,384.7L439.3,384.3L439.6,383.9L439.8,383.5L440.0,383.1L440.2,382.7L440.5,382.3L440.7,381.9L440.9,381.4L441.2,381.0L441.4,380.5L441.6,380.1L441.8,379.6L442.1,379.2L442.3,378.7L442.5,378.3L442.8,377.8L443.0,377.4L443.2,376.9L443.4,376.5L443.7,376.0L443.9,375.6L444.1,375.2L444.3,374.7L444.6,374.3L444.8,373.9L445.0,373.5L445.3,373.1L445.5,372.7L445.7,372.3L445.9,372.0L446.2,371.6L446.4,371.3L446.6,371.0L446.9,370.6L447.1,370.3L447.3,370.1L447.5,369.8L447.8,369.6L448.0,369.3L448.2,369.1L448.4,368.9L448.7,368.7L448.9,368.6L449.1,368.4L449.4,368.3L449.6,368.2L449.8,368.1L450.0,368.0L450.3,368.0L450.5,367.9L450.7,367.9L451.0,367.9L451.2,368.0L451.4,368.0L451.6,368.1L451.9,368.1L452.1,368.2L452.3,368.3L452.5,368.5L452.8,368.6L453.0,368.8L453.2,368.9L453.4,369.1L453.7,369.3L453.9,369.6L454.1,369.8L454.4,370.1L454.6,370.3L454.8,370.6L455.0,370.9L455.3,371.2L455.5,371.5L455.7,371.9L455.9,372.2L456.2,372.6L456.4,373.0L456.6,373.4L456.8,373.8L457.1,374.2L457.3,374.6L457.5,375.1L457.8,375.6L458.0,376.0L458.2,376.5L458.4,377.0L458.7,377.5L458.9,378.0L459.1,378.5L459.3,379.0L459.6,379.6L459.8,380.1L460.0,380.7L460.2,381.3L460.5,381.8L460.7,382.4L460.9,383.0L461.2,383.6L461.4,384.2L461.6,384.8L461.8,385.4L462.1,386.0L462.3,386.6L462.5,387.2L462.7,387.8L463.0,388.5L463.2,389.1L463.4,389.7L463.6,390.3L463.9,391.0L464.1,391.6L464.3,390.8L464.5,390.0L464.8,389.2L465.0,388.4L465.2,387.6L465.5,386.8L465.7,386.0L465.9,385.2L466.1,384.4L466.4,383.6L466.6,382.8L466.8,382.0L467.0,381.3L467.3,380.5L467.5,379.7L467.7,379.0L467.9,378.2L468.2,377.4L468.4,376.7L468.6,376.0L468.8,375.2L469.1,374.5L469.3,373.8L469.5,373.1L469.7,372.3L470.0,371.7L470.2,371.0L470.4,370.3L470.6,369.6L470.9,368.9L471.1,368.3L471.3,367.6L471.5,367.0L471.8,366.4L472.0,365.8L472.2,365.2L472.5,364.6L472.7,364.0L472.9,363.4L473.1,362.9L473.4,362.3L473.6,361.8L473.8,361.3L474.0,360.8L474.3,360.3L474.5,359.8L474.7,359.3L474.9,358.9L475.2,358.4L475.4,358.0L475.6,357.6L475.8,357.2L476.1,356.8L476.3,356.4L476.5,356.1L476.7,355.7L477.0,355.4L477.2,355.1L477.4,354.8L477.6,354.5L477.9,354.2L478.1,354.0L478.3,353.8L478.5,353.5L478.8,353.3L479.0,353.2L479.2,353.0L479.5,352.8L479.7,352.7L479.9,352.6L480.1,352.5L480.4,352.4L480.6,352.3L480.8,352.2L481.0,352.2L481.3,352.2L481.5,352.2L481.7,352.2L481.9,352.2L482.2,352.3L482.4,352.4L482.6,352.6L482.8,352.7L483.1,352.9L483.3,353.2L483.5,353.4L483.8,353.7L484.0,354.1L484.2,354.4L484.4,354.8L484.7,355.2L484.9,355.7L485.1,356.1L485.4,356.6L485.6,357.2L485.8,357.7L486.0,358.3L486.3,358.9L486.5,359.6L486.7,360.2L486.9,360.9L487.2,361.6L487.4,362.4L487.6,363.1L487.9,363.9L488.1,364.7L488.3,365.6L488.5,366.4L488.8,367.3L489.0,368.2L489.2,369.1L489.4,370.0L489.7,371.0L489.9,371.9L490.1,372.9L490.4,373.9L490.6,375.0L490.8,376.0L491.0,377.0L491.3,378.1L491.5,379.2L491.7,380.2L492.0,381.3L492.2,382.4L492.4,383.6L492.6,384.7L492.9,385.8L493.1,387.0L493.3,388.1L493.5,389.2L493.8,390.4L494.0,391.5L494.2,392.7L494.5,393.9L494.7,395.0L494.9,393.6L495.1,392.2L495.4,390.8L495.6,389.4L495.8,388.0L496.0,386.6L496.3,385.3L496.5,383.9L496.7,382.5L496.9,381.1L497.2,379.8L497.4,378.4L497.6,377.0L497.8,375.7L498.1,374.4L498.3,373.0L498.5,371.7L498.7,370.4L499.0,369.1L499.2,367.8L499.4,366.6L499.6,365.3L499.9,364.0L500.1,362.8L500.3,361.6L500.6,360.4L500.8,359.2L501.0,358.0L501.2,356.9L501.5,355.7L501.7,354.6L501.9,353.5L502.1,352.4L502.4,351.3L502.6,350.3L502.8,349.3L503.0,348.2L503.3,347.3L503.5,346.3L503.7,345.3L503.9,344.4L504.2,343.5L504.4,342.6L504.6,341.8L504.8,340.9L505.1,340.1L505.3,339.3L505.5,338.6L505.7,337.8L506.0,337.1L506.2,336.4L506.4,335.8L506.7,335.1L506.9,334.5L507.1,333.9L507.3,333.4L507.6,332.9L507.8,332.4L508.0,331.9L508.2,331.4L508.5,331.0L508.7,330.6L508.9,330.3L509.1,329.9L509.4,329.6L509.6,329.3L509.8,329.1L510.0,328.9L510.3,328.7L510.5,328.5L510.7,328.4L510.9,328.3L511.2,328.2L511.4,328.2L511.6,328.2L511.8,328.2L512.1,328.3L512.3,328.4L512.5,328.6L512.8,328.9L513.0,329.2L513.2,329.5L513.4,330.0L513.7,330.4L513.9,331.0L514.1,331.5L514.3,332.2L514.6,332.9L514.8,333.6L515.0,334.4L515.3,335.3L515.5,336.2L515.7,337.1L515.9,338.1L516.2,339.1L516.4,340.2L516.6,341.4L516.8,342.6L517.1,343.8L517.3,345.1L517.5,346.4L517.7,347.7L518.0,349.1L518.2,350.6L518.4,352.0L518.7,353.5L518.9,355.1L519.1,356.7L519.3,358.3L519.6,359.9L519.8,361.6L520.0,363.3L520.2,365.0L520.5,366.8L520.7,368.6L520.9,370.4L521.2,372.2L521.4,374.1L521.6,375.9L521.8,377.8L522.1,379.7L522.3,381.7L522.5,383.6L522.7,385.5L523.0,387.5L523.2,389.4L523.4,391.4L523.6,393.4L523.9,395.3L524.1,397.3L524.3,395.0L524.6,392.7L524.8,390.4L525.0,388.1L525.2,385.8L525.5,383.6L525.7,381.3L525.9,379.0L526.2,376.7L526.4,374.5L526.6,372.2L526.8,370.0L527.1,367.8L527.3,365.6L527.5,363.4L527.7,361.2L528.0,359.0L528.2,356.9L528.4,354.8L528.7,352.6L528.9,350.5L529.1,348.5L529.3,346.4L529.6,344.4L529.8,342.4L530.0,340.4L530.2,338.4L530.5,336.5L530.7,334.6L530.9,332.7L531.2,330.8L531.4,329.0L531.6,327.2L531.8,325.4L532.1,323.7L532.3,322.0L532.5,320.3L532.8,318.7L533.0,317.1L533.2,315.5L533.4,314.0L533.7,312.4L533.9,311.0L534.1,309.6L534.3,308.2L534.6,306.8L534.8,305.5L535.0,304.2L535.3,303.0L535.5,301.8L535.7,300.6L535.9,299.5L536.2,298.4L536.4,297.4L536.6,296.4L536.8,295.5L537.1,294.6L537.3,293.7L537.5,292.9L537.8,292.1L538.0,291.4L538.2,290.7L538.4,290.1L538.7,289.5L538.9,289.0L539.1,288.5L539.4,288.0L539.6,287.6L539.8,287.3L540.0,287.0L540.3,286.7L540.5,286.5L540.7,286.3L540.9,286.2L541.2,286.1L541.4,286.1L541.6,286.1L541.9,286.2L542.1,286.3L542.3,286.4L542.5,286.6L542.8,286.9L543.0,287.1L543.2,287.4L543.4,287.8L543.7,288.2L543.9,288.6L544.1,289.1L544.3,289.6L544.6,290.2L544.8,290.8L545.0,291.4L545.2,292.1L545.5,292.8L545.7,293.6L545.9,294.4L546.1,295.2L546.4,296.1L546.6,297.0L546.8,297.9L547.0,298.9L547.3,299.9L547.5,301.0L547.7,302.1L547.9,303.2L548.2,304.4L548.4,305.6L548.6,306.8L548.8,308.1L549.1,309.4L549.3,310.7L549.5,312.1L549.7,313.5L550.0,315.0L550.2,316.4L550.4,317.9L550.7,319.4L550.9,321.0L551.1,322.6L551.3,324.2L551.6,325.8L551.8,327.5L552.0,329.2L552.2,330.9L552.5,332.6L552.7,334.4L552.9,336.2L553.1,338.0L553.4,339.8L553.6,341.7L553.8,343.6L554.0,345.5L554.3,347.4L554.5,349.3L554.7,351.3L554.9,353.3L555.2,355.3L555.4,357.3L555.6,359.3L555.8,361.3L556.1,363.4L556.3,365.4L556.5,367.5L556.7,369.6L557.0,371.7L557.2,373.8L557.4,375.9L557.6,378.0L557.9,380.1L558.1,382.3L558.3,384.4L558.5,386.5L558.8,388.7L559.0,390.8L559.2,393.0L559.5,395.2L559.7,397.3L559.9,395.9L560.1,394.4L560.4,393.0L560.6,391.5L560.8,390.1L561.0,388.7L561.3,387.2L561.5,385.8L561.7,384.4L561.9,383.0L562.2,381.6L562.4,380.2L562.6,378.9L562.9,377.5L563.1,376.2L563.3,374.9L563.5,373.6L563.8,372.3L564.0,371.0L564.2,369.8L564.4,368.6L564.7,367.4L564.9,366.2L565.1,365.0L565.3,363.9L565.6,362.8L565.8,361.7L566.0,360.7L566.3,359.6L566.5,358.6L566.7,357.7L566.9,356.7L567.2,355.8L567.4,354.9L567.6,354.1L567.8,353.3L568.1,352.5L568.3,351.8L568.5,351.1L568.8,350.4L569.0,349.8L569.2,349.2L569.4,348.6L569.7,348.1L569.9,347.6L570.1,347.1L570.3,346.7L570.6,346.3L570.8,346.0L571.0,345.7L571.2,345.5L571.5,345.2L571.7,345.1L571.9,344.9L572.2,344.8L572.4,344.8L572.6,344.7L572.8,344.8L573.1,344.8L573.3,344.9L573.5,345.0L573.7,345.1L574.0,345.3L574.2,345.5L574.4,345.7L574.6,346.0L574.9,346.3L575.1,346.6L575.3,347.0L575.5,347.4L575.8,347.8L576.0,348.2L576.2,348.7L576.5,349.2L576.7,349.7L576.9,350.3L577.1,350.9L577.4,351.5L577.6,352.2L577.8,352.8L578.0,353.5L578.3,354.2L578.5,355.0L578.7,355.8L578.9,356.6L579.2,357.4L579.4,358.2L579.6,359.1L579.8,360.0L580.1,360.9L580.3,361.9L580.5,362.8L580.8,363.8L581.0,364.8L581.2,365.8L581.4,366.9L581.7,367.9L581.9,369.0L582.1,370.1L582.3,371.2L582.6,372.3L582.8,373.5L583.0,374.6L583.2,375.8L583.5,377.0L583.7,378.2L583.9,379.4L584.1,380.6L584.4,381.9L584.6,383.1L584.8,384.3L585.1,385.6L585.3,386.9L585.5,388.1L585.7,389.4L586.0,390.7L586.2,392.0L586.4,393.3L586.6,394.6L586.9,395.9L587.1,397.2L587.3,398.5L587.5,397.5L587.8,396.6L588.0,395.7L588.2,394.7L588.5,393.8L588.7,392.9L588.9,392.0L589.1,391.1L589.4,390.2L589.6,389.3L589.8,388.4L590.0,387.5L590.3,386.6L590.5,385.8L590.7,384.9L591.0,384.1L591.2,383.2L591.4,382.4L591.6,381.6L591.9,380.8L592.1,380.0L592.3,379.2L592.6,378.5L592.8,377.7L593.0,377.0L593.2,376.3L593.5,375.6L593.7,374.9L593.9,374.2L594.1,373.6L594.4,372.9L594.6,372.3L594.8,371.7L595.1,371.2L595.3,370.6L595.5,370.1L595.7,369.6L596.0,369.1L596.2,368.6L596.4,368.2L596.6,367.7L596.9,367.3L597.1,367.0L597.3,366.6L597.6,366.3L597.8,366.0L598.0,365.7L598.2,365.4L598.5,365.2L598.7,365.0L598.9,364.8L599.1,364.6L599.4,364.5L599.6,364.4L599.8,364.3L600.1,364.2L600.3,364.2L600.5,364.2L600.7,364.2L601.0,364.2L601.2,364.2L601.4,364.3L601.7,364.4L601.9,364.5L602.1,364.6L602.3,364.7L602.6,364.8L602.8,365.0L603.0,365.1L603.3,365.3L603.5,365.5L603.7,365.7L603.9,365.9L604.2,366.2L604.4,366.4L604.6,366.7L604.9,367.0L605.1,367.3L605.3,367.6L605.5,368.0L605.8,368.3L606.0,368.7L606.2,369.0L606.5,369.4L606.7,369.8L606.9,370.2L607.1,370.6L607.4,371.1L607.6,371.5L607.8,372.0L608.1,372.5L608.3,373.0L608.5,373.5L608.7,374.0L609.0,374.5L609.2,375.0L609.4,375.6L609.7,376.1L609.9,376.7L610.1,377.2L610.3,377.8L610.6,378.4L610.8,379.0L611.0,379.6L611.3,380.2L611.5,380.9L611.7,381.5L611.9,382.1L612.2,382.8L612.4,383.4L612.6,384.1L612.9,384.8L613.1,385.5L613.3,386.1L613.5,386.8L613.8,387.5L614.0,388.2L614.2,388.9L614.5,389.6L614.7,390.3L614.9,391.0L615.1,391.7L615.4,392.4L615.6,393.1L615.8,393.9L616.1,394.6L616.3,395.3L616.5,396.0L616.7,396.7L617.0,396.2L617.2,395.6L617.4,395.0L617.6,394.5L617.9,393.9L618.1,393.3L618.3,392.8L618.6,392.2L618.8,391.7L619.0,391.1L619.2,390.6L619.5,390.0L619.7,389.5L619.9,389.0L620.1,388.4L620.4,387.9L620.6,387.4L620.8,386.9L621.1,386.4L621.3,385.9L621.5,385.5L621.7,385.0L622.0,384.5L622.2,384.1L622.4,383.6L622.6,383.2L622.9,382.8L623.1,382.4L623.3,382.0L623.5,381.6L623.8,381.3L624.0,380.9L624.2,380.6L624.5,380.2L624.7,379.9L624.9,379.6L625.1,379.3L625.4,379.1L625.6,378.8L625.8,378.5L626.0,378.3L626.3,378.1L626.5,377.9L626.7,377.7L627.0,377.6L627.2,377.4L627.4,377.3L627.6,377.1L627.9,377.0L628.1,376.9L628.3,376.9L628.5,376.8L628.8,376.8L629.0,376.7L629.2,376.7L629.4,376.7L629.7,376.8L629.9,376.8L630.1,376.8L630.4,376.9L630.6,376.9L630.8,377.0L631.0,377.0L631.3,377.1L631.5,377.2L631.7,377.3L631.9,377.4L632.2,377.5L632.4,377.6L632.6,377.7L632.8,377.9L633.1,378.0L633.3,378.2L633.5,378.3L633.7,378.5L634.0,378.7L634.2,378.9L634.4,379.1L634.6,379.3L634.9,379.5L635.1,379.7L635.3,379.9L635.5,380.2L635.8,380.4L636.0,380.6L636.2,380.9L636.5,381.2L636.7,381.4L636.9,381.7L637.1,382.0L637.4,382.3L637.6,382.6L637.8,382.9L638.0,383.2L638.3,383.5L638.5,383.8L638.7,384.1L638.9,384.5L639.2,384.8L639.4,385.2L639.6,385.5L639.8,385.9L640.1,386.2L640.3,386.6L640.5,386.9L640.7,387.3L641.0,387.7L641.2,388.1L641.4,388.4L641.7,388.8L641.9,389.2L642.1,389.6L642.3,390.0L642.6,390.4L642.8,390.8L643.0,391.2L643.2,391.6L643.5,392.0L643.7,392.4L643.9,392.8L644.1,393.3L644.4,393.7L644.6,394.1L644.8,394.5L645.0,394.9L645.3,395.3L645.5,395.8L645.7,396.2L645.9,395.9L646.2,395.5L646.4,395.2L646.6,394.9L646.8,394.6L647.1,394.3L647.3,394.0L647.5,393.6L647.8,393.3L648.0,393.0L648.2,392.7L648.4,392.4L648.7,392.1L648.9,391.8L649.1,391.5L649.3,391.2L649.6,390.9L649.8,390.6L650.0,390.3L650.2,390.0L650.5,389.8L650.7,389.5L650.9,389.2L651.1,388.9L651.4,388.7L651.6,388.4L651.8,388.2L652.1,387.9L652.3,387.7L652.5,387.4L652.7,387.2L653.0,386.9L653.2,386.7L653.4,386.5L653.6,386.3L653.9,386.1L654.1,385.9L654.3,385.7L654.5,385.5L654.8,385.3L655.0,385.1L655.2,384.9L655.4,384.8L655.7,384.6L655.9,384.4L656.1,384.3L656.4,384.1L656.6,384.0L656.8,383.9L657.0,383.8L657.3,383.6L657.5,383.5L657.7,383.4L657.9,383.3L658.2,383.3L658.4,383.2L658.6,383.1L658.8,383.0L659.1,383.0L659.3,382.9L659.5,382.9L659.7,382.9L660.0,382.8L660.2,382.8L660.4,382.8L660.7,382.8L660.9,382.8L661.1,382.8L661.3,382.8L661.6,382.8L661.8,382.9L662.0,382.9L662.2,382.9L662.5,382.9L662.7,383.0L662.9,383.0L663.1,383.1L663.4,383.1L663.6,383.2L663.8,383.2L664.0,383.3L664.3,383.4L664.5,383.4L664.7,383.5L664.9,383.6L665.2,383.7L665.4,383.8L665.6,383.9L665.8,384.0L666.1,384.0L666.3,384.1L666.5,384.3L666.7,384.4L667.0,384.5L667.2,384.6L667.4,384.7L667.6,384.8L667.9,384.9L668.1,385.1L668.3,385.2L668.5,385.3L668.8,385.5L669.0,385.6L669.2,385.7L669.4,385.9L669.7,386.0L669.9,386.1L670.1,386.3L670.3,386.4L670.6,386.6L670.8,386.7L671.0,386.9L671.2,387.0L671.5,387.2L671.7,387.3L671.9,387.5L672.1,387.6L672.4,387.8L672.6,387.9L672.8,388.1L673.0,388.2L673.3,388.4L673.5,388.5L673.7,388.7L673.9,388.8L674.2,389.0L674.4,389.1L674.6,389.2L674.8,389.4L675.1,389.5L675.3,389.7L675.5,389.8L675.7,389.9L676.0,390.1L676.2,390.2L676.4,390.3L676.6,390.5L676.9,390.6L677.1,390.7L677.3,390.8L677.5,391.0L677.8,391.1L678.0,391.2L678.2,391.3L678.4,391.4L678.7,391.5L678.9,391.6L679.1,391.7L679.3,391.8L679.6,391.9L679.8,391.9L680.0,392.0L680.2,392.1L680.5,392.2L680.7,392.2L680.9,392.3L681.1,392.4L681.4,392.4L681.6,392.5L681.8,392.5L682.0,392.6L682.3,392.6L682.5,392.6L682.7,392.7L682.9,392.7L683.2,392.7L683.4,392.7L683.6,392.7L683.8,392.7L684.1,392.7" fill="none" stroke="#0000ff" stroke-width="1.6" stroke-dasharray="5.5 3.5"/>
<path d="M392.1,391.6L392.3,391.1L392.5,390.7L392.7,390.2L393.0,389.7L393.2,389.3L393.4,388.8L393.6,388.3L393.9,387.9L394.1,387.4L394.3,386.9L394.6,386.5L394.8,386.0L395.0,385.5L395.2,385.1L395.5,384.6L395.7,384.2L395.9,383.7L396.1,383.3L396.4,382.8L396.6,382.4L396.8,382.0L397.0,381.5L397.3,381.1L397.5,380.6L397.7,380.2L398.0,379.8L398.2,379.4L398.4,379.0L398.6,378.5L398.9,378.1L399.1,377.7L399.3,377.3L399.5,376.9L399.8,376.5L400.0,376.1L400.2,375.8L400.4,375.4L400.7,375.0L400.9,374.6L401.1,374.3L401.4,373.9L401.6,373.6L401.8,373.2L402.0,372.9L402.3,372.5L402.5,372.2L402.7,371.9L402.9,371.6L403.2,371.2L403.4,370.9L403.6,370.6L403.9,370.3L404.1,370.0L404.3,369.8L404.5,369.5L404.8,369.2L405.0,368.9L405.2,368.7L405.4,368.4L405.7,368.2L405.9,368.0L406.1,367.7L406.3,367.5L406.6,367.3L406.8,367.1L407.0,366.9L407.3,366.7L407.5,366.5L407.7,366.3L407.9,366.2L408.2,366.0L408.4,365.8L408.6,365.7L408.8,365.6L409.1,365.4L409.3,365.3L409.5,365.2L409.7,365.1L410.0,365.0L410.2,364.9L410.4,364.8L410.7,364.7L410.9,364.7L411.1,364.6L411.3,364.5L411.6,364.5L411.8,364.5L412.0,364.4L412.2,364.4L412.5,364.4L412.7,364.4L412.9,364.4L413.2,364.4L413.4,364.5L413.6,364.5L413.8,364.5L414.1,364.6L414.3,364.7L414.5,364.8L414.7,364.9L415.0,365.0L415.2,365.1L415.4,365.3L415.6,365.4L415.9,365.6L416.1,365.7L416.3,365.9L416.5,366.1L416.8,366.3L417.0,366.5L417.2,366.8L417.5,367.0L417.7,367.2L417.9,367.5L418.1,367.7L418.4,368.0L418.6,368.3L418.8,368.6L419.0,368.8L419.3,369.1L419.5,369.4L419.7,369.7L419.9,370.1L420.2,370.4L420.4,370.7L420.6,371.0L420.8,371.4L421.1,371.7L421.3,372.0L421.5,372.4L421.8,372.7L422.0,373.1L422.2,373.4L422.4,373.8L422.7,374.2L422.9,374.5L423.1,374.9L423.3,375.2L423.6,375.6L423.8,375.9L424.0,376.3L424.2,376.6L424.5,377.0L424.7,377.3L424.9,377.7L425.1,378.0L425.4,378.3L425.6,378.7L425.8,379.0L426.1,379.3L426.3,379.6L426.5,379.9L426.7,380.2L427.0,380.5L427.2,380.8L427.4,381.1L427.6,381.4L427.9,381.6L428.1,381.9L428.3,382.1L428.5,382.4L428.8,382.6L429.0,382.8L429.2,383.0L429.4,383.2L429.7,383.4L429.9,383.6L430.1,383.8L430.4,384.0L430.6,384.1L430.8,384.2L431.0,384.4L431.3,384.5L431.5,384.6L431.7,384.7L431.9,384.7L432.2,384.8L432.4,384.9L432.6,384.9L432.8,384.9L433.1,385.0L433.3,385.0L433.5,385.0L433.7,384.9L434.0,384.9L434.2,384.8L434.4,384.7L434.6,384.7L434.9,384.5L435.1,384.4L435.3,384.3L435.6,384.1L435.8,383.9L436.0,383.7L436.2,383.5L436.5,383.3L436.7,383.0L436.9,382.8L437.1,382.5L437.4,382.2L437.6,381.9L437.8,381.6L438.0,381.3L438.3,380.9L438.5,380.6L438.7,380.2L438.9,379.8L439.2,379.5L439.4,379.1L439.6,378.7L439.8,378.3L440.1,377.9L440.3,377.4L440.5,377.0L440.7,376.6L441.0,376.2L441.2,375.7L441.4,375.3L441.6,374.8L441.9,374.4L442.1,373.9L442.3,373.5L442.5,373.0L442.8,372.6L443.0,372.1L443.2,371.7L443.5,371.3L443.7,370.8L443.9,370.4L444.1,370.0L444.4,369.6L444.6,369.1L444.8,368.7L445.0,368.3L445.3,368.0L445.5,367.6L445.7,367.2L445.9,366.8L446.2,366.5L446.4,366.2L446.6,365.8L446.8,365.5L447.1,365.2L447.3,364.9L447.5,364.7L447.7,364.4L448.0,364.2L448.2,363.9L448.4,363.7L448.6,363.5L448.9,363.3L449.1,363.2L449.3,363.0L449.5,362.9L449.8,362.8L450.0,362.7L450.2,362.6L450.4,362.5L450.7,362.5L450.9,362.5L451.1,362.5L451.4,362.5L451.6,362.5L451.8,362.5L452.0,362.6L452.3,362.7L452.5,362.8L452.7,362.9L452.9,363.0L453.2,363.1L453.4,363.3L453.6,363.5L453.8,363.7L454.1,363.9L454.3,364.1L454.5,364.3L454.7,364.6L455.0,364.9L455.2,365.1L455.4,365.4L455.7,365.8L455.9,366.1L456.1,366.4L456.3,366.8L456.6,367.2L456.8,367.6L457.0,368.0L457.2,368.4L457.5,368.8L457.7,369.3L457.9,369.7L458.1,370.2L458.4,370.7L458.6,371.2L458.8,371.7L459.1,372.2L459.3,372.7L459.5,373.2L459.7,373.8L460.0,374.3L460.2,374.9L460.4,375.5L460.6,376.1L460.9,376.6L461.1,377.2L461.3,377.9L461.5,378.5L461.8,379.1L462.0,379.7L462.2,380.4L462.4,381.0L462.7,381.6L462.9,382.3L463.1,382.9L463.4,383.6L463.6,384.3L463.8,384.9L464.0,385.6L464.3,386.3L464.5,386.9L464.7,387.6L464.9,388.3L465.2,389.0L465.4,389.7L465.6,388.8L465.8,388.0L466.1,387.2L466.3,386.3L466.5,385.5L466.8,384.7L467.0,383.9L467.2,383.0L467.4,382.2L467.7,381.4L467.9,380.6L468.1,379.8L468.4,379.0L468.6,378.2L468.8,377.4L469.0,376.6L469.3,375.8L469.5,375.0L469.7,374.3L470.0,373.5L470.2,372.8L470.4,372.0L470.6,371.3L470.9,370.5L471.1,369.8L471.3,369.1L471.6,368.4L471.8,367.7L472.0,367.0L472.2,366.3L472.5,365.7L472.7,365.0L472.9,364.4L473.2,363.8L473.4,363.1L473.6,362.5L473.8,361.9L474.1,361.4L474.3,360.8L474.5,360.2L474.8,359.7L475.0,359.2L475.2,358.6L475.4,358.1L475.7,357.6L475.9,357.2L476.1,356.7L476.4,356.3L476.6,355.8L476.8,355.4L477.0,355.0L477.3,354.6L477.5,354.3L477.7,353.9L477.9,353.6L478.2,353.3L478.4,353.0L478.6,352.7L478.9,352.4L479.1,352.2L479.3,351.9L479.5,351.7L479.8,351.5L480.0,351.3L480.2,351.2L480.5,351.0L480.7,350.9L480.9,350.8L481.1,350.7L481.4,350.6L481.6,350.5L481.8,350.5L482.1,350.5L482.3,350.5L482.5,350.9L482.8,351.4L483.0,351.9L483.2,352.4L483.5,352.9L483.7,353.4L483.9,353.9L484.2,354.4L484.4,354.9L484.6,355.4L484.9,355.9L485.1,356.4L485.3,356.8L485.6,357.3L485.8,357.8L486.0,358.3L486.3,358.8L486.5,359.3L486.7,359.8L487.0,360.3L487.2,360.8L487.4,361.3L487.7,361.8L487.9,362.3L488.1,362.8L488.4,363.2L488.6,363.7L488.8,364.2L489.1,364.7L489.3,365.2L489.5,365.7L489.8,366.2L490.0,366.7L490.2,367.2L490.5,367.7L490.7,368.2L490.9,368.4L491.2,368.6L491.4,368.9L491.6,369.1L491.9,369.3L492.1,369.6L492.4,369.8L492.6,370.1L492.8,370.3L493.1,370.5L493.3,370.8L493.5,371.0L493.8,371.2L494.0,371.5L494.2,371.7L494.5,371.9L494.7,372.2L494.9,372.4L495.2,372.6L495.4,372.9L495.6,373.1L495.9,373.4L496.1,373.6L496.3,373.8L496.6,374.1L496.8,374.3L497.0,374.5L497.3,374.8L497.5,375.0L497.7,375.2L498.0,375.5L498.2,375.7L498.4,374.6L498.7,373.5L498.9,372.4L499.1,371.3L499.3,370.1L499.6,369.0L499.8,367.9L500.0,366.8L500.3,365.7L500.5,364.7L500.7,363.6L500.9,362.5L501.2,361.4L501.4,360.4L501.6,359.3L501.9,358.3L502.1,357.3L502.3,356.3L502.5,355.3L502.8,354.3L503.0,353.3L503.2,352.3L503.5,351.4L503.7,350.5L503.9,349.6L504.1,348.7L504.4,347.8L504.6,346.9L504.8,346.1L505.1,345.2L505.3,344.4L505.5,343.6L505.7,342.9L506.0,342.1L506.2,341.4L506.4,340.7L506.7,340.0L506.9,339.3L507.1,338.7L507.3,338.1L507.6,337.5L507.8,336.9L508.0,336.4L508.3,335.8L508.5,335.3L508.7,334.9L508.9,334.4L509.2,334.0L509.4,333.6L509.6,333.2L509.9,332.9L510.1,332.6L510.3,332.3L510.5,332.0L510.8,331.8L511.0,331.6L511.2,331.4L511.5,331.3L511.7,331.1L511.9,331.0L512.1,331.0L512.4,330.9L512.6,330.9L512.8,330.9L513.1,331.0L513.3,331.2L513.5,331.3L513.7,331.6L514.0,331.9L514.2,332.3L514.4,332.7L514.7,333.1L514.9,333.6L515.1,334.2L515.3,334.8L515.6,335.5L515.8,336.2L516.0,337.0L516.2,337.8L516.5,338.7L516.7,339.6L516.9,340.6L517.2,341.6L517.4,342.7L517.6,343.8L517.8,345.0L518.1,346.2L518.3,347.4L518.5,348.7L518.8,350.0L519.0,351.4L519.2,352.8L519.4,354.2L519.7,355.7L519.9,357.2L520.1,358.7L520.3,360.3L520.6,361.9L520.8,363.5L521.0,365.2L521.3,366.9L521.5,368.6L521.7,370.3L521.9,372.1L522.2,373.8L522.4,375.6L522.6,377.5L522.9,379.3L523.1,381.1L523.3,383.0L523.5,384.8L523.8,386.7L524.0,388.6L524.2,390.5L524.4,392.4L524.7,394.3L524.9,396.2L525.1,393.9L525.4,391.6L525.6,389.3L525.8,387.0L526.0,384.7L526.3,382.4L526.5,380.1L526.7,377.8L527.0,375.5L527.2,373.3L527.4,371.0L527.6,368.8L527.9,366.6L528.1,364.4L528.3,362.2L528.5,360.0L528.8,357.8L529.0,355.7L529.2,353.5L529.5,351.4L529.7,349.3L529.9,347.2L530.1,345.2L530.4,343.1L530.6,341.1L530.8,339.2L531.1,337.2L531.3,335.3L531.5,333.4L531.7,331.5L532.0,329.6L532.2,327.8L532.4,326.0L532.6,324.2L532.9,322.5L533.1,320.8L533.3,319.2L533.6,317.5L533.8,315.9L534.0,314.4L534.2,312.8L534.5,311.4L534.7,309.9L534.9,308.5L535.1,307.1L535.4,305.8L535.6,304.5L535.8,303.2L536.1,302.0L536.3,300.8L536.5,299.7L536.7,298.6L537.0,297.6L537.2,296.6L537.4,295.6L537.7,294.7L537.9,293.8L538.1,293.0L538.3,292.2L538.6,291.5L538.8,290.8L539.0,290.2L539.2,289.6L539.5,289.0L539.7,288.5L539.9,288.0L540.2,287.6L540.4,287.3L540.6,287.0L540.8,286.7L541.1,286.5L541.3,286.3L541.5,286.2L541.8,286.1L542.0,286.1L542.2,286.1L542.4,286.2L542.7,286.3L542.9,286.5L543.1,286.7L543.3,286.9L543.6,287.2L543.8,287.5L544.0,287.9L544.2,288.3L544.5,288.8L544.7,289.3L544.9,289.9L545.2,290.4L545.4,291.1L545.6,291.8L545.8,292.5L546.1,293.3L546.3,294.1L546.5,294.9L546.7,295.8L547.0,296.7L547.2,297.7L547.4,298.7L547.7,299.8L547.9,300.8L548.1,302.0L548.3,303.1L548.6,304.3L548.8,305.6L549.0,306.9L549.2,308.2L549.5,309.5L549.7,310.9L549.9,312.3L550.1,313.8L550.4,315.3L550.6,316.8L550.8,318.3L551.1,319.9L551.3,321.5L551.5,323.2L551.7,324.9L552.0,326.6L552.2,328.3L552.4,330.0L552.6,331.8L552.9,333.6L553.1,335.5L553.3,337.3L553.6,339.2L553.8,341.1L554.0,343.1L554.2,345.0L554.5,347.0L554.7,349.0L554.9,351.0L555.1,353.0L555.4,355.1L555.6,357.1L555.8,359.2L556.0,361.3L556.3,363.4L556.5,365.5L556.7,367.7L557.0,369.8L557.2,372.0L557.4,374.2L557.6,376.3L557.9,378.5L558.1,380.7L558.3,382.9L558.5,385.1L558.8,387.3L559.0,389.5L559.2,391.7L559.5,394.0L559.7,396.2L559.9,394.7L560.1,393.3L560.4,391.8L560.6,390.4L560.8,388.9L561.0,387.5L561.3,386.1L561.5,384.7L561.7,383.3L561.9,381.9L562.2,380.5L562.4,379.1L562.6,377.7L562.9,376.4L563.1,375.1L563.3,373.7L563.5,372.4L563.8,371.1L564.0,369.9L564.2,368.6L564.4,367.4L564.7,366.2L564.9,365.0L565.1,363.9L565.3,362.7L565.6,361.6L565.8,360.6L566.0,359.5L566.3,358.5L566.5,357.5L566.7,356.5L566.9,355.6L567.2,354.7L567.4,353.8L567.6,353.0L567.8,352.2L568.1,351.4L568.3,350.6L568.5,349.9L568.8,349.3L569.0,348.6L569.2,348.0L569.4,347.5L569.7,346.9L569.9,346.4L570.1,346.0L570.3,345.6L570.6,345.2L570.8,344.9L571.0,344.6L571.2,344.3L571.5,344.1L571.7,343.9L571.9,343.8L572.2,343.7L572.4,343.6L572.6,343.6L572.8,343.6L573.1,343.7L573.3,343.7L573.5,343.8L573.7,344.0L574.0,344.2L574.2,344.4L574.4,344.6L574.6,344.9L574.9,345.2L575.1,345.5L575.3,345.8L575.5,346.2L575.8,346.7L576.0,347.1L576.2,347.6L576.5,348.1L576.7,348.6L576.9,349.2L577.1,349.8L577.4,350.4L577.6,351.0L577.8,351.7L578.0,352.4L578.3,353.1L578.5,353.9L578.7,354.7L578.9,355.5L579.2,356.3L579.4,357.2L579.6,358.0L579.8,358.9L580.1,359.9L580.3,360.8L580.5,361.8L580.8,362.8L581.0,363.8L581.2,364.8L581.4,365.8L581.7,366.9L581.9,368.0L582.1,369.1L582.3,370.2L582.6,371.3L582.8,372.5L583.0,373.6L583.2,374.8L583.5,376.0L583.7,377.2L583.9,378.4L584.1,379.6L584.4,380.9L584.6,382.1L584.8,383.4L585.1,384.6L585.3,385.9L585.5,387.2L585.7,388.5L586.0,389.7L586.2,391.0L586.4,392.3L586.6,393.6L586.9,394.9L587.1,396.2L587.3,397.5L587.5,396.6L587.8,395.6L588.0,394.7L588.2,393.8L588.5,392.8L588.7,391.9L588.9,391.0L589.1,390.0L589.4,389.1L589.6,388.2L589.8,387.3L590.0,386.4L590.3,385.5L590.5,384.6L590.7,383.7L591.0,382.9L591.2,382.0L591.4,381.2L591.6,380.3L591.9,379.5L592.1,378.7L592.3,377.9L592.6,377.1L592.8,376.4L593.0,375.6L593.2,374.9L593.5,374.2L593.7,373.5L593.9,372.8L594.1,372.2L594.4,371.5L594.6,370.9L594.8,370.3L595.1,369.7L595.3,369.1L595.5,368.6L595.7,368.1L596.0,367.6L596.2,367.1L596.4,366.6L596.6,366.2L596.9,365.8L597.1,365.4L597.3,365.1L597.6,364.7L597.8,364.4L598.0,364.1L598.2,363.8L598.5,363.6L598.7,363.4L598.9,363.2L599.1,363.0L599.4,362.9L599.6,362.8L599.8,362.7L600.1,362.6L600.3,362.6L600.5,362.6L600.7,362.6L601.0,362.6L601.2,362.6L601.4,362.7L601.7,362.8L601.9,362.9L602.1,363.0L602.3,363.1L602.6,363.2L602.8,363.4L603.0,363.6L603.3,363.7L603.5,363.9L603.7,364.2L603.9,364.4L604.2,364.7L604.4,364.9L604.6,365.2L604.9,365.5L605.1,365.8L605.3,366.1L605.5,366.5L605.8,366.8L606.0,367.2L606.2,367.6L606.5,368.0L606.7,368.4L606.9,368.8L607.1,369.2L607.4,369.7L607.6,370.2L607.8,370.6L608.1,371.1L608.3,371.6L608.5,372.1L608.7,372.7L609.0,373.2L609.2,373.8L609.4,374.3L609.7,374.9L609.9,375.5L610.1,376.1L610.3,376.7L610.6,377.3L610.8,377.9L611.0,378.5L611.3,379.2L611.5,379.8L611.7,380.5L611.9,381.1L612.2,381.8L612.4,382.5L612.6,383.1L612.9,383.8L613.1,384.5L613.3,385.2L613.5,385.9L613.8,386.6L614.0,387.4L614.2,388.1L614.5,388.8L614.7,389.5L614.9,390.3L615.1,391.0L615.4,391.7L615.6,392.5L615.8,393.2L616.1,393.9L616.3,394.7L616.5,395.4L616.7,396.2L617.0,395.5L617.2,394.9L617.4,394.3L617.6,393.6L617.9,393.0L618.1,392.4L618.3,391.7L618.6,391.1L618.8,390.5L619.0,389.9L619.2,389.3L619.5,388.7L619.7,388.1L619.9,387.5L620.1,386.9L620.4,386.3L620.6,385.8L620.8,385.2L621.1,384.7L621.3,384.1L621.5,383.6L621.7,383.1L622.0,382.6L622.2,382.1L622.4,381.6L622.6,381.1L622.9,380.6L623.1,380.2L623.3,379.8L623.5,379.3L623.8,378.9L624.0,378.5L624.2,378.1L624.5,377.8L624.7,377.4L624.9,377.1L625.1,376.8L625.4,376.5L625.6,376.2L625.8,375.9L626.0,375.6L626.3,375.4L626.5,375.2L626.7,375.0L627.0,374.8L627.2,374.6L627.4,374.5L627.6,374.3L627.9,374.2L628.1,374.1L628.3,374.0L628.5,374.0L628.8,373.9L629.0,373.9L629.2,373.9L629.4,373.9L629.7,373.9L629.9,373.9L630.1,374.0L630.4,374.0L630.6,374.1L630.8,374.1L631.0,374.2L631.3,374.3L631.5,374.4L631.7,374.5L631.9,374.6L632.2,374.7L632.4,374.9L632.6,375.0L632.8,375.2L633.1,375.3L633.3,375.5L633.5,375.7L633.7,375.9L634.0,376.1L634.2,376.3L634.4,376.5L634.6,376.7L634.9,376.9L635.1,377.2L635.3,377.4L635.5,377.7L635.8,378.0L636.0,378.3L636.2,378.5L636.5,378.8L636.7,379.1L636.9,379.4L637.1,379.8L637.4,380.1L637.6,380.4L637.8,380.7L638.0,381.1L638.3,381.4L638.5,381.8L638.7,382.2L638.9,382.5L639.2,382.9L639.4,383.3L639.6,383.7L639.8,384.1L640.1,384.5L640.3,384.9L640.5,385.3L640.7,385.7L641.0,386.1L641.2,386.5L641.4,387.0L641.7,387.4L641.9,387.8L642.1,388.3L642.3,388.7L642.6,389.2L642.8,389.6L643.0,390.1L643.2,390.5L643.5,391.0L643.7,391.4L643.9,391.9L644.1,392.3L644.4,392.8L644.6,393.3L644.8,393.7L645.0,394.2L645.3,394.7L645.5,395.1L645.7,395.6L645.9,395.2L646.2,394.9L646.4,394.5L646.6,394.1L646.8,393.8L647.1,393.4L647.3,393.0L647.5,392.7L647.8,392.3L648.0,392.0L648.2,391.6L648.4,391.3L648.7,390.9L648.9,390.6L649.1,390.2L649.3,389.9L649.6,389.5L649.8,389.2L650.0,388.9L650.2,388.5L650.5,388.2L650.7,387.9L650.9,387.6L651.1,387.3L651.4,387.0L651.6,386.6L651.8,386.4L652.1,386.1L652.3,385.8L652.5,385.5L652.7,385.2L653.0,385.0L653.2,384.7L653.4,384.4L653.6,384.2L653.9,383.9L654.1,383.7L654.3,383.5L654.5,383.2L654.8,383.0L655.0,382.8L655.2,382.6L655.4,382.4L655.7,382.2L655.9,382.1L656.1,381.9L656.4,381.7L656.6,381.6L656.8,381.4L657.0,381.3L657.3,381.1L657.5,381.0L657.7,380.9L657.9,380.8L658.2,380.7L658.4,380.6L658.6,380.5L658.8,380.4L659.1,380.4L659.3,380.3L659.5,380.3L659.7,380.2L660.0,380.2L660.2,380.2L660.4,380.2L660.7,380.2L660.9,380.2L661.1,380.2L661.3,380.2L661.6,380.2L661.8,380.2L662.0,380.3L662.2,380.3L662.5,380.3L662.7,380.4L662.9,380.4L663.1,380.5L663.4,380.5L663.6,380.6L663.8,380.6L664.0,380.7L664.3,380.8L664.5,380.9L664.7,381.0L664.9,381.0L665.2,381.1L665.4,381.2L665.6,381.3L665.8,381.4L666.1,381.5L666.3,381.6L666.5,381.8L666.7,381.9L667.0,382.0L667.2,382.1L667.4,382.2L667.6,382.4L667.9,382.5L668.1,382.7L668.3,382.8L668.5,382.9L668.8,383.1L669.0,383.2L669.2,383.4L669.4,383.5L669.7,383.7L669.9,383.8L670.1,384.0L670.3,384.1L670.6,384.3L670.8,384.5L671.0,384.6L671.2,384.8L671.5,384.9L671.7,385.1L671.9,385.3L672.1,385.4L672.4,385.6L672.6,385.8L672.8,385.9L673.0,386.1L673.3,386.3L673.5,386.4L673.7,386.6L673.9,386.7L674.2,386.9L674.4,387.1L674.6,387.2L674.8,387.4L675.1,387.5L675.3,387.7L675.5,387.8L675.7,388.0L676.0,388.1L676.2,388.3L676.4,388.4L676.6,388.5L676.9,388.7L677.1,388.8L677.3,388.9L677.5,389.1L677.8,389.2L678.0,389.3L678.2,389.4L678.4,389.6L678.7,389.7L678.9,389.8L679.1,389.9L679.3,390.0L679.6,390.1L679.8,390.2L680.0,390.2L680.2,390.3L680.5,390.4L680.7,390.5L680.9,390.5L681.1,390.6L681.4,390.7L681.6,390.7L681.8,390.8L682.0,390.8L682.3,390.9L682.5,390.9L682.7,390.9L682.9,391.0L683.2,391.0L683.4,391.0L683.6,391.0L683.8,391.0L684.1,391.0" fill="none" stroke="#ff0000" stroke-width="1.3"/>
</svg>
<rect x="600.6" y="290.3" width="76.1" height="29.1" fill="#fff" stroke="#444" stroke-width="0.9"/>
<line x1="603.9" y1="297.8" x2="627.2" y2="297.8" stroke="#0000ff" stroke-width="1.5" stroke-dasharray="4 3.3"/>
<line x1="603.9" y1="312.2" x2="627.2" y2="312.2" stroke="#ff0000" stroke-width="1.4" />
<text x="629.4" y="302.1" font-family="Liberation Serif" font-size="10.6" fill="#111" text-anchor="start" >Simulated</text>
<text x="629.4" y="315.6" font-family="Liberation Serif" font-size="10.6" fill="#111" text-anchor="start" >Measured</text>
</svg>
</body></html>
